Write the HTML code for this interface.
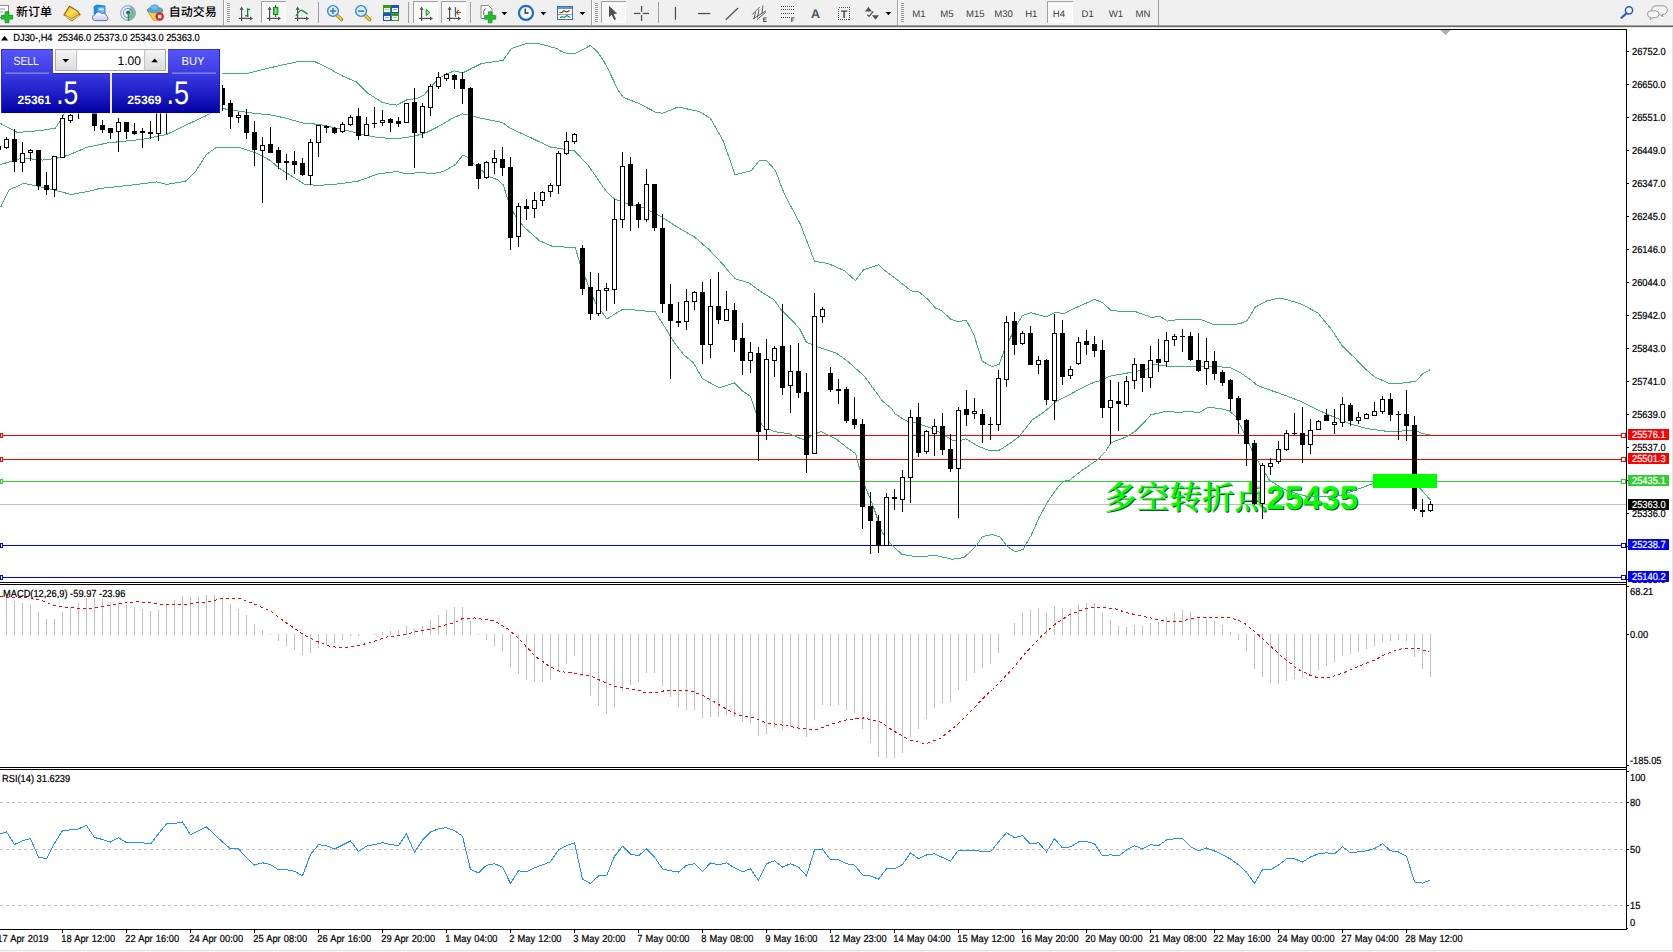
<!DOCTYPE html><html><head><meta charset="utf-8"><title>DJ30 H4</title>
<style>html,body{margin:0;padding:0;background:#fff;overflow:hidden}body{width:1673px;height:952px;position:relative}svg{position:absolute;left:0;top:0;display:block}text{font-family:'Liberation Sans', 'Noto Sans CJK SC', sans-serif;white-space:pre;text-rendering:geometricPrecision}text.ann{font-family:"Liberation Sans","Noto Serif CJK SC",serif;font-weight:bold;font-size:33px}</style></head><body>
<svg width="1673" height="952" viewBox="0 0 1673 952">
<defs>
<linearGradient id="gTab" x1="0" y1="0" x2="0" y2="1"><stop offset="0" stop-color="#5454f2"/><stop offset="1" stop-color="#3a3ade"/></linearGradient>
<linearGradient id="gPan" x1="0" y1="0" x2="0" y2="1"><stop offset="0" stop-color="#3c3ce0"/><stop offset="0.5" stop-color="#1c1cc8"/><stop offset="1" stop-color="#0000a4"/></linearGradient>
<linearGradient id="gAll" gradientUnits="userSpaceOnUse" x1="0" y1="49" x2="0" y2="113"><stop offset="0" stop-color="#5656fb"/><stop offset="0.35" stop-color="#3e3ee4"/><stop offset="0.65" stop-color="#2222cc"/><stop offset="1" stop-color="#0000a2"/></linearGradient>
<linearGradient id="gBtn" x1="0" y1="0" x2="0" y2="1"><stop offset="0" stop-color="#f4f4f4"/><stop offset="1" stop-color="#dcdcdc"/></linearGradient>
<linearGradient id="gBook" x1="0" y1="0" x2="1" y2="1"><stop offset="0" stop-color="#e8b418"/><stop offset="0.45" stop-color="#fce058"/><stop offset="1" stop-color="#d09810"/></linearGradient><linearGradient id="gCloud" x1="0" y1="0" x2="0" y2="1"><stop offset="0" stop-color="#ffffff"/><stop offset="1" stop-color="#c4d0e6"/></linearGradient>
<clipPath id="cMain"><rect x="0" y="30" width="1626" height="552"/></clipPath>
</defs>
<rect x="0" y="0" width="1673" height="952" fill="#fff" />
<rect x="0" y="0" width="1673" height="25" fill="#f0f0f0" />
<rect x="0" y="25" width="1673" height="1" fill="#a0a0a0" />
<rect x="0" y="26" width="1673" height="1" fill="#696969" />
<rect x="0" y="27" width="1673" height="1" fill="#e3e3e3" />
<rect x="0" y="28" width="1673" height="1" fill="#fff" />
<rect x="1672" y="27" width="1" height="925" fill="#e4e4e4" />
<rect x="0" y="950" width="1673" height="1" fill="#e2e2e2" />
<rect x="0" y="951" width="1673" height="1" fill="#f6f6f6" />
<g shape-rendering="crispEdges">
<rect x="0" y="29" width="1627" height="1" fill="#000" />
<rect x="1626" y="29" width="1" height="901" fill="#000" />
<rect x="0" y="582" width="1627" height="1" fill="#000" />
<rect x="0" y="584" width="1627" height="1" fill="#000" />
<rect x="0" y="767" width="1627" height="1" fill="#000" />
<rect x="0" y="769" width="1627" height="1" fill="#000" />
<rect x="0" y="929" width="1627" height="1" fill="#000" />
<rect x="0" y="583" width="1626" height="1" fill="#fff" />
<rect x="0" y="768" width="1626" height="1" fill="#fff" />
<g clip-path="url(#cMain)">
<rect x="0" y="435" width="1626" height="1" fill="#ff0000" />
<rect x="0" y="459" width="1626" height="1" fill="#ff0000" />
<rect x="0" y="481" width="1626" height="1" fill="#32cd32" />
<rect x="0" y="504" width="1626" height="1" fill="#c0c0c0" />
<rect x="0" y="545" width="1626" height="1" fill="#0000ff" />
<rect x="0" y="577" width="1626" height="1" fill="#0000ff" />
</g>
</g>
<text class="ann" x="1105.2" y="510" fill="#0b5a1c"><tspan font-size="32.6" font-weight="600">多空转折点</tspan><tspan dx="-0.8">25435</tspan></text>
<text class="ann" x="1104.2" y="509" fill="#00ff00"><tspan font-size="32.6" font-weight="600">多空转折点</tspan><tspan dx="-0.8">25435</tspan></text>
<g shape-rendering="crispEdges">
<g clip-path="url(#cMain)">
<polyline points="0.5,123.5 17.5,132.5 40.5,130.5 55.5,128.1 62.5,117.5 66.5,108.5 72.5,98.5 100.5,85.5 222.5,73.2 245.5,73.9 275.5,66.5 300.5,61.1 313.5,61.1 328.5,68.2 343.5,76.5 356.5,82.0 368.0,93.3 371.5,95.5 381.5,102.0 388.5,103.9 396.5,105.1 406.5,100.0 416.5,98.5 423.5,95.5 427.5,90.8 430.5,87.5 438.5,78.5 447.0,73.9 454.5,70.8 462.9,72.9 472.2,68.1 481.5,63.5 503.0,60.5 511.5,48.5 526.5,43.5 539.5,43.8 557.0,48.5 560.5,51.0 568.5,53.8 574.5,53.8 590.5,45.5 597.5,51.8 604.2,61.9 607.5,68.2 618.5,90.8 623.3,97.4 639.5,103.7 656.1,112.5 662.9,113.2 677.9,107.0 699.5,111.5 710.5,118.5 723.5,141.5 735.1,174.9 751.5,170.5 759.0,161.0 766.8,160.8 775.5,170.5 780.5,184.2 784.5,194.3 800.5,224.4 814.5,261.2 828.1,263.5 844.5,270.8 855.5,280.5 863.5,270.0 878.5,264.8 884.7,270.5 898.1,280.5 911.5,291.0 919.2,292.0 928.5,299.9 935.1,307.8 941.8,310.8 951.1,319.5 958.5,321.8 966.2,320.1 973.8,334.4 982.2,361.3 991.9,366.5 999.0,364.5 1004.0,351.2 1010.5,337.5 1017.2,324.1 1022.3,315.7 1030.5,312.7 1046.5,316.9 1054.2,312.7 1064.3,313.2 1077.5,307.0 1094.5,299.5 1102.1,302.3 1111.3,310.7 1136.5,312.0 1151.5,317.4 1160.1,316.5 1167.5,321.1 1178.5,319.5 1202.1,319.9 1214.5,325.0 1227.3,324.5 1239.5,323.9 1247.3,320.5 1254.9,307.4 1266.5,301.0 1279.2,298.1 1287.5,299.8 1301.1,304.0 1317.9,312.9 1331.3,329.2 1342.3,346.0 1354.9,358.1 1365.0,368.7 1375.0,377.1 1390.2,383.9 1403.5,383.0 1415.5,381.3 1422.9,373.8 1430.5,369.5" fill="none" stroke="#3cb371" stroke-width="1"/>
<polyline points="0.5,164.5 22.5,158.0 42.5,160.1 55.5,158.5 67.5,155.5 87.5,147.1 108.0,142.9 143.5,139.2 166.5,134.5 185.5,125.3 206.5,115.5 214.5,110.5 222.5,108.5 232.5,110.2 255.5,113.5 270.5,114.8 287.3,118.5 302.5,123.0 319.2,124.4 334.5,127.7 349.5,131.1 366.3,135.3 379.5,137.8 398.2,138.5 415.0,136.1 426.5,132.5 438.5,126.5 452.0,118.5 462.1,113.9 467.1,114.3 477.2,117.5 502.5,122.5 510.5,128.5 531.0,137.8 536.5,140.5 550.9,147.2 560.5,148.5 574.5,150.9 587.9,164.9 606.5,191.8 614.8,199.3 628.2,204.0 643.4,207.7 661.8,217.0 678.5,227.9 693.8,236.5 708.9,249.5 724.0,265.5 727.9,270.5 735.5,278.9 749.0,282.8 759.0,290.5 774.1,299.9 780.5,308.8 799.2,328.0 806.5,342.5 813.5,345.0 819.2,347.5 836.0,352.9 847.7,361.3 864.5,376.4 878.0,394.9 882.5,401.3 891.5,408.3 895.1,413.9 904.9,420.1 908.5,421.5 915.0,422.5 922.0,424.9 933.8,429.1 943.9,435.0 952.3,440.0 959.0,440.8 965.7,438.8 979.2,446.7 989.2,450.5 999.3,450.1 1009.4,443.9 1018.9,436.7 1032.3,419.9 1045.8,410.7 1055.9,401.5 1071.0,393.9 1082.8,387.5 1096.2,381.3 1101.3,380.8 1109.5,376.2 1128.1,372.9 1146.5,369.5 1153.4,364.5 1166.8,366.1 1195.4,366.1 1217.2,366.5 1230.5,367.8 1240.5,372.9 1249.2,378.7 1257.5,385.5 1271.0,390.5 1279.2,393.2 1301.1,401.5 1317.9,410.0 1331.3,415.9 1351.5,424.3 1366.5,428.5 1390.2,431.8 1407.0,430.7 1414.5,430.2 1422.1,433.5 1429.5,434.9" fill="none" stroke="#3cb371" stroke-width="1"/>
<polyline points="0.5,207.5 8.9,190.0 24.0,183.3 39.1,186.5 56.0,190.5 71.1,194.5 87.9,191.5 99.5,188.5 128.2,185.5 156.5,181.9 166.5,184.5 185.5,181.2 195.5,171.5 206.5,154.5 215.5,148.0 239.1,147.5 256.0,153.0 270.5,160.5 278.9,168.0 292.3,176.5 304.1,184.0 317.5,185.5 337.5,184.0 357.9,181.2 378.0,173.9 396.5,171.5 406.5,173.9 421.5,172.3 431.5,173.9 443.5,171.5 455.5,164.5 462.9,154.9 468.5,158.0 474.5,164.5 489.0,176.5 497.5,179.8 503.3,184.9 507.5,198.5 513.9,213.5 524.0,227.0 539.2,240.5 552.5,246.5 575.3,247.5 580.3,264.9 586.0,279.5 590.5,291.5 596.0,304.1 606.9,318.9 622.9,309.2 632.1,309.2 638.0,310.8 654.8,311.3 663.2,324.3 673.3,341.1 683.4,354.5 693.5,362.9 702.7,378.9 719.5,387.8 734.5,382.8 742.2,390.7 750.5,396.5 756.5,414.0 762.3,425.5 769.9,429.3 774.1,431.5 789.2,433.8 804.4,440.0 812.8,435.0 821.2,431.5 836.3,439.2 848.1,448.4 855.5,453.5 859.8,469.4 865.7,487.9 873.3,506.4 881.7,531.5 890.1,543.4 901.8,554.3 917.0,556.8 935.5,555.5 952.3,559.3 964.0,557.5 975.8,546.5 982.5,536.5 992.5,534.5 1000.2,537.0 1007.2,546.5 1015.5,551.9 1023.2,549.1 1031.5,534.8 1039.2,517.1 1049.2,499.5 1057.5,487.7 1063.5,481.3 1069.5,480.2 1081.2,470.9 1098.0,459.5 1105.5,451.5 1111.3,442.5 1124.8,437.5 1134.9,431.7 1143.3,423.3 1150.8,414.9 1165.1,411.5 1178.5,412.3 1192.0,411.5 1198.7,412.9 1207.1,407.8 1218.9,408.1 1229.0,410.7 1235.7,416.5 1238.9,422.5 1246.5,437.7 1252.3,451.2 1259.9,464.5 1269.2,479.7 1279.2,486.5 1289.3,491.5 1306.1,496.2 1324.5,496.9 1339.5,495.7 1358.2,489.0 1373.4,483.5 1400.5,480.5 1414.5,482.5 1420.5,489.0 1430.5,500.2" fill="none" stroke="#3cb371" stroke-width="1"/>
<rect x="-2" y="146" width="1" height="4" fill="#000" />
<rect x="-4" y="146" width="5" height="4" fill="#000" />
<rect x="6" y="137" width="1" height="12" fill="#000" />
<rect x="4" y="139" width="5" height="9" fill="#000" />
<rect x="5" y="140" width="3" height="7" fill="#fff" />
<rect x="14" y="129" width="1" height="43" fill="#000" />
<rect x="12" y="139" width="5" height="23" fill="#000" />
<rect x="22" y="142" width="1" height="30" fill="#000" />
<rect x="20" y="153" width="5" height="10" fill="#000" />
<rect x="21" y="154" width="3" height="8" fill="#fff" />
<rect x="30" y="149" width="1" height="12" fill="#000" />
<rect x="28" y="150" width="5" height="3" fill="#000" />
<rect x="29" y="151" width="3" height="1" fill="#fff" />
<rect x="38" y="150" width="1" height="40" fill="#000" />
<rect x="36" y="150" width="5" height="36" fill="#000" />
<rect x="46" y="172" width="1" height="23" fill="#000" />
<rect x="44" y="185" width="5" height="5" fill="#000" />
<rect x="54" y="156" width="1" height="41" fill="#000" />
<rect x="52" y="156" width="5" height="34" fill="#000" />
<rect x="53" y="157" width="3" height="32" fill="#fff" />
<rect x="62" y="115" width="1" height="43" fill="#000" />
<rect x="60" y="118" width="5" height="40" fill="#000" />
<rect x="61" y="119" width="3" height="38" fill="#fff" />
<rect x="70" y="114" width="1" height="9" fill="#000" />
<rect x="68" y="115" width="5" height="6" fill="#000" />
<rect x="69" y="116" width="3" height="4" fill="#fff" />
<rect x="78" y="100" width="1" height="19" fill="#000" />
<rect x="76" y="100" width="5" height="11" fill="#000" />
<rect x="94" y="100" width="1" height="31" fill="#000" />
<rect x="92" y="105" width="5" height="21" fill="#000" />
<rect x="102" y="120" width="1" height="13" fill="#000" />
<rect x="100" y="125" width="5" height="5" fill="#000" />
<rect x="110" y="128" width="1" height="11" fill="#000" />
<rect x="108" y="128" width="5" height="5" fill="#000" />
<rect x="118" y="118" width="1" height="34" fill="#000" />
<rect x="116" y="122" width="5" height="10" fill="#000" />
<rect x="117" y="123" width="3" height="8" fill="#fff" />
<rect x="126" y="122" width="1" height="17" fill="#000" />
<rect x="124" y="122" width="5" height="10" fill="#000" />
<rect x="134" y="123" width="1" height="12" fill="#000" />
<rect x="132" y="131" width="5" height="3" fill="#000" />
<rect x="142" y="128" width="1" height="20" fill="#000" />
<rect x="140" y="131" width="5" height="2" fill="#000" />
<rect x="150" y="121" width="1" height="18" fill="#000" />
<rect x="148" y="132" width="5" height="2" fill="#000" />
<rect x="158" y="100" width="1" height="41" fill="#000" />
<rect x="156" y="105" width="5" height="29" fill="#000" />
<rect x="157" y="106" width="3" height="27" fill="#fff" />
<rect x="166" y="100" width="1" height="34" fill="#000" />
<rect x="164" y="100" width="5" height="11" fill="#000" />
<rect x="165" y="101" width="3" height="9" fill="#fff" />
<rect x="222" y="85" width="1" height="26" fill="#000" />
<rect x="220" y="88" width="5" height="17" fill="#000" />
<rect x="230" y="100" width="1" height="29" fill="#000" />
<rect x="228" y="103" width="5" height="14" fill="#000" />
<rect x="238" y="112" width="1" height="11" fill="#000" />
<rect x="236" y="115" width="5" height="3" fill="#000" />
<rect x="237" y="116" width="3" height="1" fill="#fff" />
<rect x="246" y="109" width="1" height="30" fill="#000" />
<rect x="244" y="115" width="5" height="18" fill="#000" />
<rect x="254" y="121" width="1" height="45" fill="#000" />
<rect x="252" y="132" width="5" height="18" fill="#000" />
<rect x="262" y="137" width="1" height="66" fill="#000" />
<rect x="260" y="145" width="5" height="6" fill="#000" />
<rect x="261" y="146" width="3" height="4" fill="#fff" />
<rect x="270" y="127" width="1" height="26" fill="#000" />
<rect x="268" y="144" width="5" height="9" fill="#000" />
<rect x="278" y="147" width="1" height="22" fill="#000" />
<rect x="276" y="150" width="5" height="13" fill="#000" />
<rect x="286" y="154" width="1" height="26" fill="#000" />
<rect x="284" y="161" width="5" height="2" fill="#000" />
<rect x="294" y="151" width="1" height="23" fill="#000" />
<rect x="292" y="161" width="5" height="4" fill="#000" />
<rect x="302" y="158" width="1" height="18" fill="#000" />
<rect x="300" y="163" width="5" height="12" fill="#000" />
<rect x="310" y="139" width="1" height="46" fill="#000" />
<rect x="308" y="142" width="5" height="34" fill="#000" />
<rect x="309" y="143" width="3" height="32" fill="#fff" />
<rect x="318" y="125" width="1" height="32" fill="#000" />
<rect x="316" y="125" width="5" height="18" fill="#000" />
<rect x="317" y="126" width="3" height="16" fill="#fff" />
<rect x="326" y="125" width="1" height="8" fill="#000" />
<rect x="324" y="126" width="5" height="2" fill="#000" />
<rect x="334" y="127" width="1" height="7" fill="#000" />
<rect x="332" y="128" width="5" height="5" fill="#000" />
<rect x="342" y="122" width="1" height="11" fill="#000" />
<rect x="340" y="124" width="5" height="8" fill="#000" />
<rect x="341" y="125" width="3" height="6" fill="#fff" />
<rect x="350" y="115" width="1" height="11" fill="#000" />
<rect x="348" y="117" width="5" height="8" fill="#000" />
<rect x="349" y="118" width="3" height="6" fill="#fff" />
<rect x="358" y="108" width="1" height="32" fill="#000" />
<rect x="356" y="116" width="5" height="20" fill="#000" />
<rect x="366" y="117" width="1" height="19" fill="#000" />
<rect x="364" y="124" width="5" height="12" fill="#000" />
<rect x="365" y="125" width="3" height="10" fill="#fff" />
<rect x="374" y="107" width="1" height="21" fill="#000" />
<rect x="372" y="123" width="5" height="1" fill="#000" />
<rect x="382" y="110" width="1" height="16" fill="#000" />
<rect x="380" y="120" width="5" height="3" fill="#000" />
<rect x="381" y="121" width="3" height="1" fill="#fff" />
<rect x="390" y="118" width="1" height="14" fill="#000" />
<rect x="388" y="119" width="5" height="4" fill="#000" />
<rect x="398" y="117" width="1" height="10" fill="#000" />
<rect x="396" y="121" width="5" height="3" fill="#000" />
<rect x="406" y="103" width="1" height="20" fill="#000" />
<rect x="404" y="103" width="5" height="20" fill="#000" />
<rect x="405" y="104" width="3" height="18" fill="#fff" />
<rect x="414" y="88" width="1" height="80" fill="#000" />
<rect x="412" y="102" width="5" height="31" fill="#000" />
<rect x="422" y="103" width="1" height="35" fill="#000" />
<rect x="420" y="106" width="5" height="27" fill="#000" />
<rect x="421" y="107" width="3" height="25" fill="#fff" />
<rect x="430" y="84" width="1" height="32" fill="#000" />
<rect x="428" y="86" width="5" height="22" fill="#000" />
<rect x="429" y="87" width="3" height="20" fill="#fff" />
<rect x="438" y="72" width="1" height="17" fill="#000" />
<rect x="436" y="77" width="5" height="10" fill="#000" />
<rect x="437" y="78" width="3" height="8" fill="#fff" />
<rect x="446" y="73" width="1" height="8" fill="#000" />
<rect x="444" y="74" width="5" height="5" fill="#000" />
<rect x="445" y="75" width="3" height="3" fill="#fff" />
<rect x="454" y="74" width="1" height="15" fill="#000" />
<rect x="452" y="75" width="5" height="5" fill="#000" />
<rect x="462" y="72" width="1" height="32" fill="#000" />
<rect x="460" y="79" width="5" height="10" fill="#000" />
<rect x="470" y="87" width="1" height="79" fill="#000" />
<rect x="468" y="88" width="5" height="78" fill="#000" />
<rect x="478" y="163" width="1" height="26" fill="#000" />
<rect x="476" y="164" width="5" height="15" fill="#000" />
<rect x="486" y="161" width="1" height="18" fill="#000" />
<rect x="484" y="162" width="5" height="16" fill="#000" />
<rect x="485" y="163" width="3" height="14" fill="#fff" />
<rect x="494" y="150" width="1" height="24" fill="#000" />
<rect x="492" y="158" width="5" height="5" fill="#000" />
<rect x="493" y="159" width="3" height="3" fill="#fff" />
<rect x="502" y="147" width="1" height="29" fill="#000" />
<rect x="500" y="159" width="5" height="9" fill="#000" />
<rect x="510" y="157" width="1" height="93" fill="#000" />
<rect x="508" y="167" width="5" height="71" fill="#000" />
<rect x="518" y="203" width="1" height="44" fill="#000" />
<rect x="516" y="206" width="5" height="31" fill="#000" />
<rect x="517" y="207" width="3" height="29" fill="#fff" />
<rect x="526" y="199" width="1" height="21" fill="#000" />
<rect x="524" y="206" width="5" height="3" fill="#000" />
<rect x="534" y="192" width="1" height="26" fill="#000" />
<rect x="532" y="200" width="5" height="9" fill="#000" />
<rect x="533" y="201" width="3" height="7" fill="#fff" />
<rect x="542" y="191" width="1" height="15" fill="#000" />
<rect x="540" y="192" width="5" height="9" fill="#000" />
<rect x="541" y="193" width="3" height="7" fill="#fff" />
<rect x="550" y="183" width="1" height="14" fill="#000" />
<rect x="548" y="185" width="5" height="7" fill="#000" />
<rect x="549" y="186" width="3" height="5" fill="#fff" />
<rect x="558" y="151" width="1" height="43" fill="#000" />
<rect x="556" y="153" width="5" height="33" fill="#000" />
<rect x="557" y="154" width="3" height="31" fill="#fff" />
<rect x="566" y="132" width="1" height="23" fill="#000" />
<rect x="564" y="141" width="5" height="13" fill="#000" />
<rect x="565" y="142" width="3" height="11" fill="#fff" />
<rect x="574" y="133" width="1" height="11" fill="#000" />
<rect x="572" y="134" width="5" height="8" fill="#000" />
<rect x="573" y="135" width="3" height="6" fill="#fff" />
<rect x="582" y="245" width="1" height="50" fill="#000" />
<rect x="580" y="248" width="5" height="41" fill="#000" />
<rect x="590" y="272" width="1" height="48" fill="#000" />
<rect x="588" y="287" width="5" height="27" fill="#000" />
<rect x="598" y="273" width="1" height="43" fill="#000" />
<rect x="596" y="290" width="5" height="24" fill="#000" />
<rect x="597" y="291" width="3" height="22" fill="#fff" />
<rect x="606" y="283" width="1" height="28" fill="#000" />
<rect x="604" y="288" width="5" height="3" fill="#000" />
<rect x="605" y="289" width="3" height="1" fill="#fff" />
<rect x="614" y="199" width="1" height="105" fill="#000" />
<rect x="612" y="219" width="5" height="71" fill="#000" />
<rect x="613" y="220" width="3" height="69" fill="#fff" />
<rect x="622" y="152" width="1" height="76" fill="#000" />
<rect x="620" y="166" width="5" height="54" fill="#000" />
<rect x="621" y="167" width="3" height="52" fill="#fff" />
<rect x="630" y="157" width="1" height="74" fill="#000" />
<rect x="628" y="164" width="5" height="42" fill="#000" />
<rect x="638" y="202" width="1" height="26" fill="#000" />
<rect x="636" y="204" width="5" height="16" fill="#000" />
<rect x="646" y="169" width="1" height="53" fill="#000" />
<rect x="644" y="184" width="5" height="36" fill="#000" />
<rect x="645" y="185" width="3" height="34" fill="#fff" />
<rect x="654" y="184" width="1" height="47" fill="#000" />
<rect x="652" y="184" width="5" height="44" fill="#000" />
<rect x="662" y="214" width="1" height="99" fill="#000" />
<rect x="660" y="228" width="5" height="76" fill="#000" />
<rect x="670" y="284" width="1" height="95" fill="#000" />
<rect x="668" y="304" width="5" height="17" fill="#000" />
<rect x="678" y="302" width="1" height="25" fill="#000" />
<rect x="676" y="321" width="5" height="2" fill="#000" />
<rect x="686" y="289" width="1" height="41" fill="#000" />
<rect x="684" y="301" width="5" height="21" fill="#000" />
<rect x="685" y="302" width="3" height="19" fill="#fff" />
<rect x="694" y="291" width="1" height="19" fill="#000" />
<rect x="692" y="292" width="5" height="10" fill="#000" />
<rect x="693" y="293" width="3" height="8" fill="#fff" />
<rect x="702" y="282" width="1" height="82" fill="#000" />
<rect x="700" y="292" width="5" height="53" fill="#000" />
<rect x="710" y="279" width="1" height="79" fill="#000" />
<rect x="708" y="306" width="5" height="39" fill="#000" />
<rect x="709" y="307" width="3" height="37" fill="#fff" />
<rect x="718" y="272" width="1" height="52" fill="#000" />
<rect x="716" y="306" width="5" height="14" fill="#000" />
<rect x="726" y="291" width="1" height="30" fill="#000" />
<rect x="724" y="309" width="5" height="12" fill="#000" />
<rect x="725" y="310" width="3" height="10" fill="#fff" />
<rect x="734" y="303" width="1" height="49" fill="#000" />
<rect x="732" y="310" width="5" height="30" fill="#000" />
<rect x="742" y="323" width="1" height="52" fill="#000" />
<rect x="740" y="338" width="5" height="23" fill="#000" />
<rect x="750" y="342" width="1" height="31" fill="#000" />
<rect x="748" y="352" width="5" height="9" fill="#000" />
<rect x="749" y="353" width="3" height="7" fill="#fff" />
<rect x="758" y="347" width="1" height="114" fill="#000" />
<rect x="756" y="353" width="5" height="79" fill="#000" />
<rect x="766" y="339" width="1" height="101" fill="#000" />
<rect x="764" y="359" width="5" height="71" fill="#000" />
<rect x="765" y="360" width="3" height="69" fill="#fff" />
<rect x="774" y="346" width="1" height="31" fill="#000" />
<rect x="772" y="348" width="5" height="13" fill="#000" />
<rect x="773" y="349" width="3" height="11" fill="#fff" />
<rect x="782" y="304" width="1" height="91" fill="#000" />
<rect x="780" y="346" width="5" height="42" fill="#000" />
<rect x="790" y="345" width="1" height="68" fill="#000" />
<rect x="788" y="371" width="5" height="15" fill="#000" />
<rect x="789" y="372" width="3" height="13" fill="#fff" />
<rect x="798" y="343" width="1" height="55" fill="#000" />
<rect x="796" y="371" width="5" height="22" fill="#000" />
<rect x="806" y="373" width="1" height="100" fill="#000" />
<rect x="804" y="392" width="5" height="63" fill="#000" />
<rect x="814" y="293" width="1" height="161" fill="#000" />
<rect x="812" y="316" width="5" height="138" fill="#000" />
<rect x="813" y="317" width="3" height="136" fill="#fff" />
<rect x="822" y="307" width="1" height="16" fill="#000" />
<rect x="820" y="309" width="5" height="8" fill="#000" />
<rect x="821" y="310" width="3" height="6" fill="#fff" />
<rect x="830" y="367" width="1" height="25" fill="#000" />
<rect x="828" y="373" width="5" height="17" fill="#000" />
<rect x="838" y="379" width="1" height="25" fill="#000" />
<rect x="836" y="389" width="5" height="2" fill="#000" />
<rect x="846" y="387" width="1" height="36" fill="#000" />
<rect x="844" y="389" width="5" height="32" fill="#000" />
<rect x="854" y="397" width="1" height="32" fill="#000" />
<rect x="852" y="419" width="5" height="6" fill="#000" />
<rect x="862" y="419" width="1" height="110" fill="#000" />
<rect x="860" y="424" width="5" height="83" fill="#000" />
<rect x="870" y="492" width="1" height="62" fill="#000" />
<rect x="868" y="506" width="5" height="15" fill="#000" />
<rect x="878" y="515" width="1" height="38" fill="#000" />
<rect x="876" y="521" width="5" height="25" fill="#000" />
<rect x="886" y="493" width="1" height="53" fill="#000" />
<rect x="884" y="497" width="5" height="49" fill="#000" />
<rect x="885" y="498" width="3" height="47" fill="#fff" />
<rect x="894" y="489" width="1" height="21" fill="#000" />
<rect x="892" y="497" width="5" height="2" fill="#000" />
<rect x="902" y="470" width="1" height="42" fill="#000" />
<rect x="900" y="477" width="5" height="23" fill="#000" />
<rect x="901" y="478" width="3" height="21" fill="#fff" />
<rect x="910" y="410" width="1" height="93" fill="#000" />
<rect x="908" y="417" width="5" height="61" fill="#000" />
<rect x="909" y="418" width="3" height="59" fill="#fff" />
<rect x="918" y="403" width="1" height="54" fill="#000" />
<rect x="916" y="417" width="5" height="36" fill="#000" />
<rect x="926" y="430" width="1" height="24" fill="#000" />
<rect x="924" y="431" width="5" height="21" fill="#000" />
<rect x="925" y="432" width="3" height="19" fill="#fff" />
<rect x="934" y="419" width="1" height="37" fill="#000" />
<rect x="932" y="426" width="5" height="8" fill="#000" />
<rect x="933" y="427" width="3" height="6" fill="#fff" />
<rect x="942" y="413" width="1" height="42" fill="#000" />
<rect x="940" y="426" width="5" height="24" fill="#000" />
<rect x="950" y="434" width="1" height="38" fill="#000" />
<rect x="948" y="449" width="5" height="20" fill="#000" />
<rect x="958" y="407" width="1" height="111" fill="#000" />
<rect x="956" y="410" width="5" height="59" fill="#000" />
<rect x="957" y="411" width="3" height="57" fill="#fff" />
<rect x="966" y="390" width="1" height="36" fill="#000" />
<rect x="964" y="409" width="5" height="6" fill="#000" />
<rect x="974" y="398" width="1" height="21" fill="#000" />
<rect x="972" y="411" width="5" height="3" fill="#000" />
<rect x="973" y="412" width="3" height="1" fill="#fff" />
<rect x="982" y="409" width="1" height="34" fill="#000" />
<rect x="980" y="414" width="5" height="11" fill="#000" />
<rect x="990" y="417" width="1" height="23" fill="#000" />
<rect x="988" y="424" width="5" height="1" fill="#000" />
<rect x="998" y="370" width="1" height="61" fill="#000" />
<rect x="996" y="378" width="5" height="47" fill="#000" />
<rect x="997" y="379" width="3" height="45" fill="#fff" />
<rect x="1006" y="316" width="1" height="71" fill="#000" />
<rect x="1004" y="322" width="5" height="58" fill="#000" />
<rect x="1005" y="323" width="3" height="56" fill="#fff" />
<rect x="1014" y="312" width="1" height="43" fill="#000" />
<rect x="1012" y="321" width="5" height="24" fill="#000" />
<rect x="1022" y="331" width="1" height="14" fill="#000" />
<rect x="1020" y="333" width="5" height="11" fill="#000" />
<rect x="1021" y="334" width="3" height="9" fill="#fff" />
<rect x="1030" y="326" width="1" height="39" fill="#000" />
<rect x="1028" y="333" width="5" height="32" fill="#000" />
<rect x="1038" y="356" width="1" height="18" fill="#000" />
<rect x="1036" y="360" width="5" height="5" fill="#000" />
<rect x="1037" y="361" width="3" height="3" fill="#fff" />
<rect x="1046" y="359" width="1" height="46" fill="#000" />
<rect x="1044" y="360" width="5" height="40" fill="#000" />
<rect x="1054" y="314" width="1" height="106" fill="#000" />
<rect x="1052" y="333" width="5" height="68" fill="#000" />
<rect x="1053" y="334" width="3" height="66" fill="#fff" />
<rect x="1062" y="320" width="1" height="65" fill="#000" />
<rect x="1060" y="333" width="5" height="44" fill="#000" />
<rect x="1070" y="366" width="1" height="13" fill="#000" />
<rect x="1068" y="369" width="5" height="7" fill="#000" />
<rect x="1069" y="370" width="3" height="5" fill="#fff" />
<rect x="1078" y="337" width="1" height="28" fill="#000" />
<rect x="1076" y="342" width="5" height="22" fill="#000" />
<rect x="1077" y="343" width="3" height="20" fill="#fff" />
<rect x="1086" y="330" width="1" height="25" fill="#000" />
<rect x="1084" y="341" width="5" height="4" fill="#000" />
<rect x="1094" y="336" width="1" height="21" fill="#000" />
<rect x="1092" y="344" width="5" height="7" fill="#000" />
<rect x="1102" y="340" width="1" height="78" fill="#000" />
<rect x="1100" y="350" width="5" height="58" fill="#000" />
<rect x="1110" y="380" width="1" height="64" fill="#000" />
<rect x="1108" y="400" width="5" height="8" fill="#000" />
<rect x="1109" y="401" width="3" height="6" fill="#fff" />
<rect x="1118" y="382" width="1" height="49" fill="#000" />
<rect x="1116" y="401" width="5" height="3" fill="#000" />
<rect x="1126" y="376" width="1" height="31" fill="#000" />
<rect x="1124" y="381" width="5" height="24" fill="#000" />
<rect x="1125" y="382" width="3" height="22" fill="#fff" />
<rect x="1134" y="358" width="1" height="31" fill="#000" />
<rect x="1132" y="364" width="5" height="17" fill="#000" />
<rect x="1133" y="365" width="3" height="15" fill="#fff" />
<rect x="1142" y="364" width="1" height="28" fill="#000" />
<rect x="1140" y="364" width="5" height="14" fill="#000" />
<rect x="1150" y="346" width="1" height="42" fill="#000" />
<rect x="1148" y="360" width="5" height="18" fill="#000" />
<rect x="1149" y="361" width="3" height="16" fill="#fff" />
<rect x="1158" y="339" width="1" height="33" fill="#000" />
<rect x="1156" y="359" width="5" height="4" fill="#000" />
<rect x="1166" y="332" width="1" height="35" fill="#000" />
<rect x="1164" y="340" width="5" height="22" fill="#000" />
<rect x="1165" y="341" width="3" height="20" fill="#fff" />
<rect x="1174" y="334" width="1" height="12" fill="#000" />
<rect x="1172" y="336" width="5" height="4" fill="#000" />
<rect x="1173" y="337" width="3" height="2" fill="#fff" />
<rect x="1182" y="329" width="1" height="23" fill="#000" />
<rect x="1180" y="336" width="5" height="1" fill="#000" />
<rect x="1190" y="332" width="1" height="29" fill="#000" />
<rect x="1188" y="336" width="5" height="24" fill="#000" />
<rect x="1198" y="333" width="1" height="39" fill="#000" />
<rect x="1196" y="360" width="5" height="11" fill="#000" />
<rect x="1206" y="338" width="1" height="47" fill="#000" />
<rect x="1204" y="361" width="5" height="8" fill="#000" />
<rect x="1205" y="362" width="3" height="6" fill="#fff" />
<rect x="1214" y="351" width="1" height="29" fill="#000" />
<rect x="1212" y="361" width="5" height="13" fill="#000" />
<rect x="1222" y="370" width="1" height="16" fill="#000" />
<rect x="1220" y="372" width="5" height="11" fill="#000" />
<rect x="1230" y="379" width="1" height="32" fill="#000" />
<rect x="1228" y="380" width="5" height="19" fill="#000" />
<rect x="1238" y="396" width="1" height="38" fill="#000" />
<rect x="1236" y="398" width="5" height="22" fill="#000" />
<rect x="1246" y="419" width="1" height="47" fill="#000" />
<rect x="1244" y="420" width="5" height="24" fill="#000" />
<rect x="1254" y="440" width="1" height="65" fill="#000" />
<rect x="1252" y="443" width="5" height="61" fill="#000" />
<rect x="1262" y="463" width="1" height="56" fill="#000" />
<rect x="1260" y="465" width="5" height="39" fill="#000" />
<rect x="1261" y="466" width="3" height="37" fill="#fff" />
<rect x="1270" y="458" width="1" height="17" fill="#000" />
<rect x="1268" y="463" width="5" height="4" fill="#000" />
<rect x="1269" y="464" width="3" height="2" fill="#fff" />
<rect x="1278" y="441" width="1" height="23" fill="#000" />
<rect x="1276" y="449" width="5" height="13" fill="#000" />
<rect x="1277" y="450" width="3" height="11" fill="#fff" />
<rect x="1286" y="430" width="1" height="21" fill="#000" />
<rect x="1284" y="433" width="5" height="17" fill="#000" />
<rect x="1285" y="434" width="3" height="15" fill="#fff" />
<rect x="1294" y="413" width="1" height="22" fill="#000" />
<rect x="1292" y="433" width="5" height="1" fill="#000" />
<rect x="1302" y="407" width="1" height="56" fill="#000" />
<rect x="1300" y="433" width="5" height="12" fill="#000" />
<rect x="1310" y="419" width="1" height="35" fill="#000" />
<rect x="1308" y="430" width="5" height="15" fill="#000" />
<rect x="1309" y="431" width="3" height="13" fill="#fff" />
<rect x="1318" y="420" width="1" height="10" fill="#000" />
<rect x="1316" y="421" width="5" height="9" fill="#000" />
<rect x="1317" y="422" width="3" height="7" fill="#fff" />
<rect x="1326" y="409" width="1" height="12" fill="#000" />
<rect x="1324" y="415" width="5" height="6" fill="#000" />
<rect x="1334" y="409" width="1" height="25" fill="#000" />
<rect x="1332" y="422" width="5" height="3" fill="#000" />
<rect x="1333" y="423" width="3" height="1" fill="#fff" />
<rect x="1342" y="397" width="1" height="30" fill="#000" />
<rect x="1340" y="404" width="5" height="19" fill="#000" />
<rect x="1341" y="405" width="3" height="17" fill="#fff" />
<rect x="1350" y="403" width="1" height="23" fill="#000" />
<rect x="1348" y="405" width="5" height="16" fill="#000" />
<rect x="1358" y="412" width="1" height="12" fill="#000" />
<rect x="1356" y="417" width="5" height="4" fill="#000" />
<rect x="1357" y="418" width="3" height="2" fill="#fff" />
<rect x="1366" y="413" width="1" height="6" fill="#000" />
<rect x="1364" y="414" width="5" height="5" fill="#000" />
<rect x="1365" y="415" width="3" height="3" fill="#fff" />
<rect x="1374" y="402" width="1" height="14" fill="#000" />
<rect x="1372" y="411" width="5" height="5" fill="#000" />
<rect x="1373" y="412" width="3" height="3" fill="#fff" />
<rect x="1382" y="396" width="1" height="18" fill="#000" />
<rect x="1380" y="399" width="5" height="13" fill="#000" />
<rect x="1381" y="400" width="3" height="11" fill="#fff" />
<rect x="1390" y="393" width="1" height="28" fill="#000" />
<rect x="1388" y="399" width="5" height="16" fill="#000" />
<rect x="1398" y="411" width="1" height="29" fill="#000" />
<rect x="1396" y="414" width="5" height="1" fill="#000" />
<rect x="1406" y="390" width="1" height="51" fill="#000" />
<rect x="1404" y="414" width="5" height="12" fill="#000" />
<rect x="1414" y="416" width="1" height="95" fill="#000" />
<rect x="1412" y="425" width="5" height="84" fill="#000" />
<rect x="1422" y="499" width="1" height="18" fill="#000" />
<rect x="1420" y="510" width="5" height="2" fill="#000" />
<rect x="1430" y="501" width="1" height="11" fill="#000" />
<rect x="1428" y="504" width="5" height="7" fill="#000" />
<rect x="1429" y="505" width="3" height="5" fill="#fff" />
<rect x="1373" y="474" width="64" height="14" fill="#00ff00" />
<polygon points="1440,30 1450,30 1445,35" fill="#b0b0b0"/>
</g>
<rect x="1621.5" y="433.5" width="4" height="4" fill="#fff" stroke="#ff0000" stroke-width="1"/>
<rect x="0.5" y="433.5" width="2" height="4" fill="#fff" stroke="#ff0000" stroke-width="1"/>
<rect x="1621.5" y="457.5" width="4" height="4" fill="#fff" stroke="#ff0000" stroke-width="1"/>
<rect x="0.5" y="457.5" width="2" height="4" fill="#fff" stroke="#ff0000" stroke-width="1"/>
<rect x="1621.5" y="479.5" width="4" height="4" fill="#fff" stroke="#32cd32" stroke-width="1"/>
<rect x="0.5" y="479.5" width="2" height="4" fill="#fff" stroke="#32cd32" stroke-width="1"/>
<rect x="1621.5" y="543.5" width="4" height="4" fill="#fff" stroke="#0000ff" stroke-width="1"/>
<rect x="0.5" y="543.5" width="2" height="4" fill="#fff" stroke="#0000ff" stroke-width="1"/>
<rect x="1621.5" y="575.5" width="4" height="4" fill="#fff" stroke="#0000ff" stroke-width="1"/>
<rect x="0.5" y="575.5" width="2" height="4" fill="#fff" stroke="#0000ff" stroke-width="1"/>
<rect x="1627" y="51" width="2" height="1" fill="#000" />
<rect x="1627" y="84" width="2" height="1" fill="#000" />
<rect x="1627" y="117" width="2" height="1" fill="#000" />
<rect x="1627" y="150" width="2" height="1" fill="#000" />
<rect x="1627" y="183" width="2" height="1" fill="#000" />
<rect x="1627" y="216" width="2" height="1" fill="#000" />
<rect x="1627" y="249" width="2" height="1" fill="#000" />
<rect x="1627" y="282" width="2" height="1" fill="#000" />
<rect x="1627" y="315" width="2" height="1" fill="#000" />
<rect x="1627" y="348" width="2" height="1" fill="#000" />
<rect x="1627" y="381" width="2" height="1" fill="#000" />
<rect x="1627" y="414" width="2" height="1" fill="#000" />
<rect x="1627" y="447" width="2" height="1" fill="#000" />
<rect x="1627" y="480" width="2" height="1" fill="#000" />
<rect x="1627" y="513" width="2" height="1" fill="#000" />
<rect x="1627" y="546" width="2" height="1" fill="#000" />
<rect x="1627" y="579" width="2" height="1" fill="#000" />
</g>
<text transform="translate(1632,55.0) scale(0.912,1)" font-size="10.2" fill="#000" stroke="#000" stroke-width="0.22" text-anchor="start" font-weight="normal" >26752.0</text>
<text transform="translate(1632,88.0) scale(0.912,1)" font-size="10.2" fill="#000" stroke="#000" stroke-width="0.22" text-anchor="start" font-weight="normal" >26650.0</text>
<text transform="translate(1632,121.0) scale(0.912,1)" font-size="10.2" fill="#000" stroke="#000" stroke-width="0.22" text-anchor="start" font-weight="normal" >26551.0</text>
<text transform="translate(1632,154.0) scale(0.912,1)" font-size="10.2" fill="#000" stroke="#000" stroke-width="0.22" text-anchor="start" font-weight="normal" >26449.0</text>
<text transform="translate(1632,187.0) scale(0.912,1)" font-size="10.2" fill="#000" stroke="#000" stroke-width="0.22" text-anchor="start" font-weight="normal" >26347.0</text>
<text transform="translate(1632,220.0) scale(0.912,1)" font-size="10.2" fill="#000" stroke="#000" stroke-width="0.22" text-anchor="start" font-weight="normal" >26245.0</text>
<text transform="translate(1632,253.0) scale(0.912,1)" font-size="10.2" fill="#000" stroke="#000" stroke-width="0.22" text-anchor="start" font-weight="normal" >26146.0</text>
<text transform="translate(1632,286.0) scale(0.912,1)" font-size="10.2" fill="#000" stroke="#000" stroke-width="0.22" text-anchor="start" font-weight="normal" >26044.0</text>
<text transform="translate(1632,319.0) scale(0.912,1)" font-size="10.2" fill="#000" stroke="#000" stroke-width="0.22" text-anchor="start" font-weight="normal" >25942.0</text>
<text transform="translate(1632,352.0) scale(0.912,1)" font-size="10.2" fill="#000" stroke="#000" stroke-width="0.22" text-anchor="start" font-weight="normal" >25843.0</text>
<text transform="translate(1632,385.0) scale(0.912,1)" font-size="10.2" fill="#000" stroke="#000" stroke-width="0.22" text-anchor="start" font-weight="normal" >25741.0</text>
<text transform="translate(1632,418.0) scale(0.912,1)" font-size="10.2" fill="#000" stroke="#000" stroke-width="0.22" text-anchor="start" font-weight="normal" >25639.0</text>
<text transform="translate(1632,451.0) scale(0.912,1)" font-size="10.2" fill="#000" stroke="#000" stroke-width="0.22" text-anchor="start" font-weight="normal" >25537.0</text>
<text transform="translate(1632,517.0) scale(0.912,1)" font-size="10.2" fill="#000" stroke="#000" stroke-width="0.22" text-anchor="start" font-weight="normal" >25336.0</text>
<text transform="translate(1632,583.0) scale(0.912,1)" font-size="10.2" fill="#000" stroke="#000" stroke-width="0.22" text-anchor="start" font-weight="normal" >25135.0</text>
<rect x="1628" y="429" width="41" height="11" fill="#ff0000" shape-rendering="crispEdges"/>
<text transform="translate(1632,438) scale(0.912,1)" font-size="10.2" fill="#fff" stroke="#fff" stroke-width="0.22" text-anchor="start" font-weight="normal" >25576.1</text>
<rect x="1628" y="453" width="41" height="11" fill="#ff0000" shape-rendering="crispEdges"/>
<text transform="translate(1632,462) scale(0.912,1)" font-size="10.2" fill="#fff" stroke="#fff" stroke-width="0.22" text-anchor="start" font-weight="normal" >25501.3</text>
<rect x="1628" y="475" width="41" height="11" fill="#32cd32" shape-rendering="crispEdges"/>
<text transform="translate(1632,484) scale(0.912,1)" font-size="10.2" fill="#fff" stroke="#fff" stroke-width="0.22" text-anchor="start" font-weight="normal" >25435.1</text>
<rect x="1628" y="499" width="41" height="11" fill="#000000" shape-rendering="crispEdges"/>
<text transform="translate(1632,508) scale(0.912,1)" font-size="10.2" fill="#fff" stroke="#fff" stroke-width="0.22" text-anchor="start" font-weight="normal" >25363.0</text>
<rect x="1628" y="539" width="41" height="11" fill="#0000ff" shape-rendering="crispEdges"/>
<text transform="translate(1632,548) scale(0.912,1)" font-size="10.2" fill="#fff" stroke="#fff" stroke-width="0.22" text-anchor="start" font-weight="normal" >25238.7</text>
<rect x="1628" y="571" width="41" height="11" fill="#0000ff" shape-rendering="crispEdges"/>
<text transform="translate(1632,580) scale(0.912,1)" font-size="10.2" fill="#fff" stroke="#fff" stroke-width="0.22" text-anchor="start" font-weight="normal" >25140.2</text>
<g shape-rendering="crispEdges">
<rect x="6" y="597" width="1" height="38" fill="#c0c0c0" />
<rect x="14" y="601" width="1" height="34" fill="#c0c0c0" />
<rect x="22" y="603" width="1" height="32" fill="#c0c0c0" />
<rect x="30" y="605" width="1" height="30" fill="#c0c0c0" />
<rect x="38" y="612" width="1" height="23" fill="#c0c0c0" />
<rect x="46" y="619" width="1" height="16" fill="#c0c0c0" />
<rect x="54" y="619" width="1" height="16" fill="#c0c0c0" />
<rect x="62" y="612" width="1" height="23" fill="#c0c0c0" />
<rect x="70" y="607" width="1" height="28" fill="#c0c0c0" />
<rect x="78" y="603" width="1" height="32" fill="#c0c0c0" />
<rect x="86" y="598" width="1" height="37" fill="#c0c0c0" />
<rect x="94" y="598" width="1" height="37" fill="#c0c0c0" />
<rect x="102" y="599" width="1" height="36" fill="#c0c0c0" />
<rect x="110" y="602" width="1" height="33" fill="#c0c0c0" />
<rect x="118" y="602" width="1" height="33" fill="#c0c0c0" />
<rect x="126" y="605" width="1" height="30" fill="#c0c0c0" />
<rect x="134" y="607" width="1" height="28" fill="#c0c0c0" />
<rect x="142" y="609" width="1" height="26" fill="#c0c0c0" />
<rect x="150" y="611" width="1" height="24" fill="#c0c0c0" />
<rect x="158" y="610" width="1" height="25" fill="#c0c0c0" />
<rect x="166" y="605" width="1" height="30" fill="#c0c0c0" />
<rect x="174" y="600" width="1" height="35" fill="#c0c0c0" />
<rect x="182" y="596" width="1" height="39" fill="#c0c0c0" />
<rect x="190" y="597" width="1" height="38" fill="#c0c0c0" />
<rect x="198" y="597" width="1" height="38" fill="#c0c0c0" />
<rect x="206" y="595" width="1" height="40" fill="#c0c0c0" />
<rect x="214" y="595" width="1" height="40" fill="#c0c0c0" />
<rect x="222" y="599" width="1" height="36" fill="#c0c0c0" />
<rect x="230" y="604" width="1" height="31" fill="#c0c0c0" />
<rect x="238" y="609" width="1" height="26" fill="#c0c0c0" />
<rect x="246" y="615" width="1" height="20" fill="#c0c0c0" />
<rect x="254" y="624" width="1" height="11" fill="#c0c0c0" />
<rect x="262" y="630" width="1" height="5" fill="#c0c0c0" />
<rect x="270" y="634" width="1" height="1" fill="#c0c0c0" />
<rect x="278" y="634" width="1" height="7" fill="#c0c0c0" />
<rect x="286" y="634" width="1" height="12" fill="#c0c0c0" />
<rect x="294" y="634" width="1" height="16" fill="#c0c0c0" />
<rect x="302" y="634" width="1" height="21" fill="#c0c0c0" />
<rect x="310" y="634" width="1" height="19" fill="#c0c0c0" />
<rect x="318" y="634" width="1" height="14" fill="#c0c0c0" />
<rect x="326" y="634" width="1" height="11" fill="#c0c0c0" />
<rect x="334" y="634" width="1" height="9" fill="#c0c0c0" />
<rect x="342" y="634" width="1" height="6" fill="#c0c0c0" />
<rect x="350" y="634" width="1" height="2" fill="#c0c0c0" />
<rect x="358" y="634" width="1" height="2" fill="#c0c0c0" />
<rect x="374" y="634" width="1" height="1" fill="#c0c0c0" />
<rect x="382" y="632" width="1" height="3" fill="#c0c0c0" />
<rect x="390" y="631" width="1" height="4" fill="#c0c0c0" />
<rect x="398" y="630" width="1" height="5" fill="#c0c0c0" />
<rect x="406" y="626" width="1" height="9" fill="#c0c0c0" />
<rect x="414" y="629" width="1" height="6" fill="#c0c0c0" />
<rect x="422" y="626" width="1" height="9" fill="#c0c0c0" />
<rect x="430" y="620" width="1" height="15" fill="#c0c0c0" />
<rect x="438" y="615" width="1" height="20" fill="#c0c0c0" />
<rect x="446" y="610" width="1" height="25" fill="#c0c0c0" />
<rect x="454" y="607" width="1" height="28" fill="#c0c0c0" />
<rect x="462" y="607" width="1" height="28" fill="#c0c0c0" />
<rect x="470" y="621" width="1" height="14" fill="#c0c0c0" />
<rect x="478" y="634" width="1" height="1" fill="#c0c0c0" />
<rect x="486" y="634" width="1" height="6" fill="#c0c0c0" />
<rect x="494" y="634" width="1" height="12" fill="#c0c0c0" />
<rect x="502" y="634" width="1" height="17" fill="#c0c0c0" />
<rect x="510" y="634" width="1" height="33" fill="#c0c0c0" />
<rect x="518" y="634" width="1" height="40" fill="#c0c0c0" />
<rect x="526" y="634" width="1" height="46" fill="#c0c0c0" />
<rect x="534" y="634" width="1" height="48" fill="#c0c0c0" />
<rect x="542" y="634" width="1" height="48" fill="#c0c0c0" />
<rect x="550" y="634" width="1" height="46" fill="#c0c0c0" />
<rect x="558" y="634" width="1" height="38" fill="#c0c0c0" />
<rect x="566" y="634" width="1" height="30" fill="#c0c0c0" />
<rect x="574" y="634" width="1" height="22" fill="#c0c0c0" />
<rect x="582" y="634" width="1" height="42" fill="#c0c0c0" />
<rect x="590" y="634" width="1" height="62" fill="#c0c0c0" />
<rect x="598" y="634" width="1" height="72" fill="#c0c0c0" />
<rect x="606" y="634" width="1" height="80" fill="#c0c0c0" />
<rect x="614" y="634" width="1" height="73" fill="#c0c0c0" />
<rect x="622" y="634" width="1" height="57" fill="#c0c0c0" />
<rect x="630" y="634" width="1" height="51" fill="#c0c0c0" />
<rect x="638" y="634" width="1" height="48" fill="#c0c0c0" />
<rect x="646" y="634" width="1" height="39" fill="#c0c0c0" />
<rect x="654" y="634" width="1" height="39" fill="#c0c0c0" />
<rect x="662" y="634" width="1" height="52" fill="#c0c0c0" />
<rect x="670" y="634" width="1" height="63" fill="#c0c0c0" />
<rect x="678" y="634" width="1" height="73" fill="#c0c0c0" />
<rect x="686" y="634" width="1" height="76" fill="#c0c0c0" />
<rect x="694" y="634" width="1" height="76" fill="#c0c0c0" />
<rect x="702" y="634" width="1" height="84" fill="#c0c0c0" />
<rect x="710" y="634" width="1" height="83" fill="#c0c0c0" />
<rect x="718" y="634" width="1" height="83" fill="#c0c0c0" />
<rect x="726" y="634" width="1" height="81" fill="#c0c0c0" />
<rect x="734" y="634" width="1" height="83" fill="#c0c0c0" />
<rect x="742" y="634" width="1" height="88" fill="#c0c0c0" />
<rect x="750" y="634" width="1" height="89" fill="#c0c0c0" />
<rect x="758" y="634" width="1" height="102" fill="#c0c0c0" />
<rect x="766" y="634" width="1" height="100" fill="#c0c0c0" />
<rect x="774" y="634" width="1" height="94" fill="#c0c0c0" />
<rect x="782" y="634" width="1" height="96" fill="#c0c0c0" />
<rect x="790" y="634" width="1" height="93" fill="#c0c0c0" />
<rect x="798" y="634" width="1" height="94" fill="#c0c0c0" />
<rect x="806" y="634" width="1" height="103" fill="#c0c0c0" />
<rect x="814" y="634" width="1" height="86" fill="#c0c0c0" />
<rect x="822" y="634" width="1" height="71" fill="#c0c0c0" />
<rect x="830" y="634" width="1" height="72" fill="#c0c0c0" />
<rect x="838" y="634" width="1" height="71" fill="#c0c0c0" />
<rect x="846" y="634" width="1" height="76" fill="#c0c0c0" />
<rect x="854" y="634" width="1" height="79" fill="#c0c0c0" />
<rect x="862" y="634" width="1" height="95" fill="#c0c0c0" />
<rect x="870" y="634" width="1" height="109" fill="#c0c0c0" />
<rect x="878" y="634" width="1" height="123" fill="#c0c0c0" />
<rect x="886" y="634" width="1" height="124" fill="#c0c0c0" />
<rect x="894" y="634" width="1" height="124" fill="#c0c0c0" />
<rect x="902" y="634" width="1" height="119" fill="#c0c0c0" />
<rect x="910" y="634" width="1" height="103" fill="#c0c0c0" />
<rect x="918" y="634" width="1" height="95" fill="#c0c0c0" />
<rect x="926" y="634" width="1" height="85" fill="#c0c0c0" />
<rect x="934" y="634" width="1" height="74" fill="#c0c0c0" />
<rect x="942" y="634" width="1" height="69" fill="#c0c0c0" />
<rect x="950" y="634" width="1" height="68" fill="#c0c0c0" />
<rect x="958" y="634" width="1" height="56" fill="#c0c0c0" />
<rect x="966" y="634" width="1" height="47" fill="#c0c0c0" />
<rect x="974" y="634" width="1" height="39" fill="#c0c0c0" />
<rect x="982" y="634" width="1" height="34" fill="#c0c0c0" />
<rect x="990" y="634" width="1" height="30" fill="#c0c0c0" />
<rect x="998" y="634" width="1" height="19" fill="#c0c0c0" />
<rect x="1014" y="623" width="1" height="12" fill="#c0c0c0" />
<rect x="1022" y="613" width="1" height="22" fill="#c0c0c0" />
<rect x="1030" y="610" width="1" height="25" fill="#c0c0c0" />
<rect x="1038" y="608" width="1" height="27" fill="#c0c0c0" />
<rect x="1046" y="613" width="1" height="22" fill="#c0c0c0" />
<rect x="1054" y="606" width="1" height="29" fill="#c0c0c0" />
<rect x="1062" y="608" width="1" height="27" fill="#c0c0c0" />
<rect x="1070" y="609" width="1" height="26" fill="#c0c0c0" />
<rect x="1078" y="605" width="1" height="30" fill="#c0c0c0" />
<rect x="1086" y="603" width="1" height="32" fill="#c0c0c0" />
<rect x="1094" y="603" width="1" height="32" fill="#c0c0c0" />
<rect x="1102" y="613" width="1" height="22" fill="#c0c0c0" />
<rect x="1110" y="620" width="1" height="15" fill="#c0c0c0" />
<rect x="1118" y="626" width="1" height="9" fill="#c0c0c0" />
<rect x="1126" y="627" width="1" height="8" fill="#c0c0c0" />
<rect x="1134" y="625" width="1" height="10" fill="#c0c0c0" />
<rect x="1142" y="626" width="1" height="9" fill="#c0c0c0" />
<rect x="1150" y="623" width="1" height="12" fill="#c0c0c0" />
<rect x="1158" y="622" width="1" height="13" fill="#c0c0c0" />
<rect x="1166" y="617" width="1" height="18" fill="#c0c0c0" />
<rect x="1174" y="613" width="1" height="22" fill="#c0c0c0" />
<rect x="1182" y="610" width="1" height="25" fill="#c0c0c0" />
<rect x="1190" y="612" width="1" height="23" fill="#c0c0c0" />
<rect x="1198" y="617" width="1" height="18" fill="#c0c0c0" />
<rect x="1206" y="617" width="1" height="18" fill="#c0c0c0" />
<rect x="1214" y="621" width="1" height="14" fill="#c0c0c0" />
<rect x="1222" y="625" width="1" height="10" fill="#c0c0c0" />
<rect x="1230" y="632" width="1" height="3" fill="#c0c0c0" />
<rect x="1238" y="634" width="1" height="6" fill="#c0c0c0" />
<rect x="1246" y="634" width="1" height="17" fill="#c0c0c0" />
<rect x="1254" y="634" width="1" height="35" fill="#c0c0c0" />
<rect x="1262" y="634" width="1" height="43" fill="#c0c0c0" />
<rect x="1270" y="634" width="1" height="49" fill="#c0c0c0" />
<rect x="1278" y="634" width="1" height="50" fill="#c0c0c0" />
<rect x="1286" y="634" width="1" height="47" fill="#c0c0c0" />
<rect x="1294" y="634" width="1" height="45" fill="#c0c0c0" />
<rect x="1302" y="634" width="1" height="44" fill="#c0c0c0" />
<rect x="1310" y="634" width="1" height="41" fill="#c0c0c0" />
<rect x="1318" y="634" width="1" height="36" fill="#c0c0c0" />
<rect x="1326" y="634" width="1" height="32" fill="#c0c0c0" />
<rect x="1334" y="634" width="1" height="28" fill="#c0c0c0" />
<rect x="1342" y="634" width="1" height="22" fill="#c0c0c0" />
<rect x="1350" y="634" width="1" height="20" fill="#c0c0c0" />
<rect x="1358" y="634" width="1" height="18" fill="#c0c0c0" />
<rect x="1366" y="634" width="1" height="15" fill="#c0c0c0" />
<rect x="1374" y="634" width="1" height="12" fill="#c0c0c0" />
<rect x="1382" y="634" width="1" height="8" fill="#c0c0c0" />
<rect x="1390" y="634" width="1" height="7" fill="#c0c0c0" />
<rect x="1398" y="634" width="1" height="6" fill="#c0c0c0" />
<rect x="1406" y="634" width="1" height="7" fill="#c0c0c0" />
<rect x="1414" y="634" width="1" height="23" fill="#c0c0c0" />
<rect x="1422" y="634" width="1" height="35" fill="#c0c0c0" />
<rect x="1430" y="634" width="1" height="43" fill="#c0c0c0" />
<polyline points="0.5,596.9 30.1,597.7 42.9,600.9 53.8,605.5 65.5,607.5 85.3,608.7 99.1,607.2 114.9,604.2 134.5,601.8 146.5,602.2 160.3,604.5 183.9,604.8 193.8,602.8 209.5,601.8 219.5,598.9 241.1,598.9 254.9,604.2 270.7,611.1 286.5,622.9 304.2,635.2 316.1,641.1 329.1,646.0 341.3,648.0 354.2,646.5 369.9,642.7 387.7,636.8 407.5,634.4 415.3,631.5 431.1,629.3 439.0,626.5 454.8,622.5 462.5,618.5 474.5,618.0 494.2,621.0 508.0,628.9 519.8,639.7 535.5,656.5 549.5,666.3 559.3,671.3 575.1,673.5 590.9,676.2 606.5,683.1 614.5,686.5 638.2,690.0 646.1,693.0 659.1,692.0 663.5,691.0 688.1,690.0 701.9,694.9 713.8,701.5 725.5,708.7 739.4,715.3 753.2,717.5 765.0,722.5 782.8,725.1 798.5,728.1 816.3,729.9 830.1,724.5 845.9,720.0 863.5,718.0 879.5,721.5 891.3,729.5 909.0,739.9 925.8,743.9 940.5,738.3 956.4,725.5 972.1,709.7 989.1,692.5 992.5,689.5 1010.2,671.3 1026.0,652.5 1041.8,635.8 1055.5,623.9 1069.5,614.7 1085.2,608.7 1097.0,607.2 1114.8,608.7 1126.5,612.7 1146.3,617.0 1164.1,621.0 1181.8,621.0 1197.5,617.5 1229.2,617.5 1243.0,622.0 1254.8,631.8 1266.5,642.3 1280.5,655.5 1298.2,669.3 1310.0,675.2 1319.2,678.2 1330.1,677.2 1343.9,672.7 1359.5,665.9 1373.5,660.5 1385.3,654.5 1399.1,649.2 1409.0,648.0 1418.8,648.2 1423.8,650.5 1429.5,651.2" fill="none" stroke="#ff0000" stroke-width="1" stroke-dasharray="3,3"/>
<rect x="1627" y="586" width="2" height="1" fill="#000" />
<rect x="1627" y="634" width="2" height="1" fill="#000" />
<rect x="1627" y="765" width="2" height="1" fill="#000" />
</g>
<text transform="translate(1630,595.3) scale(0.912,1)" font-size="10.2" fill="#000" stroke="#000" stroke-width="0.22" text-anchor="start" font-weight="normal" >68.21</text>
<text transform="translate(1630,638) scale(0.912,1)" font-size="10.2" fill="#000" stroke="#000" stroke-width="0.22" text-anchor="start" font-weight="normal" >0.00</text>
<text transform="translate(1630,764) scale(0.912,1)" font-size="10.2" fill="#000" stroke="#000" stroke-width="0.22" text-anchor="start" font-weight="normal" >-185.05</text>
<text transform="translate(3,597) scale(0.912,1)" font-size="10.2" fill="#000" stroke="#000" stroke-width="0.22" text-anchor="start" font-weight="normal" >MACD(12,26,9) -59.97 -23.96</text>
<g shape-rendering="crispEdges">
<line x1="0" y1="802.5" x2="1626" y2="802.5" stroke="#c0c0c0" stroke-width="1" stroke-dasharray="3,3"/>
<line x1="0" y1="849.5" x2="1626" y2="849.5" stroke="#c0c0c0" stroke-width="1" stroke-dasharray="3,3"/>
<line x1="0" y1="905.5" x2="1626" y2="905.5" stroke="#c0c0c0" stroke-width="1" stroke-dasharray="3,3"/>
</g>
<polyline points="-1.5,834.5 6.5,831.9 14.5,844.5 22.5,840.7 30.5,838.7 38.5,857.0 46.5,858.8 54.5,843.2 62.5,830.7 70.5,829.9 78.5,828.9 86.5,825.5 94.5,837.5 102.5,839.5 110.5,842.0 118.5,837.7 126.5,842.7 134.5,842.7 142.5,842.7 150.5,844.0 158.5,833.7 166.5,823.9 174.5,823.5 182.5,821.9 190.5,834.9 198.5,830.7 206.5,826.9 214.5,834.5 222.5,842.0 230.5,848.7 238.5,849.0 246.5,857.8 254.5,865.1 262.5,862.8 270.5,864.5 278.5,869.8 286.5,869.8 294.5,871.3 302.5,875.9 310.5,854.5 318.5,844.7 326.5,845.7 334.5,849.0 342.5,845.0 350.5,841.0 358.5,851.5 366.5,846.2 374.5,844.5 382.5,842.7 390.5,844.5 398.5,845.7 406.5,833.9 414.5,852.5 422.5,840.2 430.5,831.9 438.5,828.9 446.5,827.7 454.5,830.7 462.5,836.2 470.5,869.5 478.5,872.8 486.5,865.3 494.5,863.8 502.5,867.1 510.5,883.5 518.5,870.8 526.5,871.8 534.5,867.8 542.5,864.8 550.5,861.8 558.5,850.0 566.5,845.7 574.5,842.7 582.5,879.1 590.5,883.5 598.5,875.9 606.5,875.9 614.5,856.3 622.5,846.2 630.5,854.0 638.5,855.8 646.5,849.0 654.5,857.0 662.5,868.8 670.5,870.8 678.5,872.1 686.5,865.3 694.5,863.8 702.5,871.8 710.5,862.8 718.5,864.8 726.5,862.8 734.5,867.8 742.5,871.8 750.5,868.8 758.5,880.4 766.5,863.8 774.5,860.8 782.5,867.1 790.5,863.8 798.5,867.1 806.5,875.9 814.5,850.0 822.5,849.0 830.5,859.8 838.5,859.8 846.5,863.8 854.5,865.1 862.5,874.9 870.5,876.1 878.5,879.1 886.5,868.8 894.5,868.8 902.5,864.5 910.5,852.8 918.5,858.8 926.5,855.0 934.5,853.8 942.5,857.5 950.5,861.0 958.5,850.0 966.5,850.0 974.5,850.0 982.5,851.8 990.5,851.8 998.5,842.0 1006.5,832.7 1014.5,837.7 1022.5,835.7 1030.5,844.0 1038.5,842.7 1046.5,851.8 1054.5,838.7 1062.5,848.0 1070.5,846.7 1078.5,842.0 1086.5,841.7 1094.5,843.7 1102.5,856.0 1110.5,854.8 1118.5,856.0 1126.5,850.0 1134.5,845.7 1142.5,849.0 1150.5,844.7 1158.5,845.7 1166.5,840.0 1174.5,838.7 1182.5,838.7 1190.5,846.7 1198.5,850.8 1206.5,848.0 1214.5,851.0 1222.5,854.8 1230.5,859.0 1238.5,864.8 1246.5,872.1 1254.5,883.5 1262.5,869.8 1270.5,869.8 1278.5,865.1 1286.5,858.8 1294.5,858.8 1302.5,862.1 1310.5,857.0 1318.5,853.8 1326.5,852.8 1334.5,854.0 1342.5,846.7 1350.5,853.0 1358.5,851.8 1366.5,850.8 1374.5,848.7 1382.5,843.7 1390.5,850.8 1398.5,852.0 1406.5,856.3 1414.5,881.9 1422.5,883.1 1430.5,879.9" fill="none" stroke="#1e90ff" stroke-width="1" shape-rendering="crispEdges"/>
<g shape-rendering="crispEdges">
<rect x="1627" y="771" width="2" height="1" fill="#000" />
<rect x="1627" y="802" width="2" height="1" fill="#000" />
<rect x="1627" y="849" width="2" height="1" fill="#000" />
<rect x="1627" y="905" width="2" height="1" fill="#000" />
<rect x="1627" y="928" width="1" height="1" fill="#000" />
</g>
<text transform="translate(1630,780.5) scale(0.912,1)" font-size="10.2" fill="#000" stroke="#000" stroke-width="0.22" text-anchor="start" font-weight="normal" >100</text>
<text transform="translate(1630,805.5) scale(0.912,1)" font-size="10.2" fill="#000" stroke="#000" stroke-width="0.22" text-anchor="start" font-weight="normal" >80</text>
<text transform="translate(1630,852.5) scale(0.912,1)" font-size="10.2" fill="#000" stroke="#000" stroke-width="0.22" text-anchor="start" font-weight="normal" >50</text>
<text transform="translate(1630,908.5) scale(0.912,1)" font-size="10.2" fill="#000" stroke="#000" stroke-width="0.22" text-anchor="start" font-weight="normal" >15</text>
<text transform="translate(1630,925.5) scale(0.912,1)" font-size="10.2" fill="#000" stroke="#000" stroke-width="0.22" text-anchor="start" font-weight="normal" >0</text>
<text transform="translate(2,781.5) scale(0.912,1)" font-size="10.2" fill="#000" stroke="#000" stroke-width="0.22" text-anchor="start" font-weight="normal" >RSI(14) 31.6239</text>
<g shape-rendering="crispEdges">
<rect x="62" y="930" width="1" height="3" fill="#000" />
<rect x="126" y="930" width="1" height="3" fill="#000" />
<rect x="190" y="930" width="1" height="3" fill="#000" />
<rect x="254" y="930" width="1" height="3" fill="#000" />
<rect x="318" y="930" width="1" height="3" fill="#000" />
<rect x="382" y="930" width="1" height="3" fill="#000" />
<rect x="446" y="930" width="1" height="3" fill="#000" />
<rect x="510" y="930" width="1" height="3" fill="#000" />
<rect x="574" y="930" width="1" height="3" fill="#000" />
<rect x="638" y="930" width="1" height="3" fill="#000" />
<rect x="702" y="930" width="1" height="3" fill="#000" />
<rect x="766" y="930" width="1" height="3" fill="#000" />
<rect x="830" y="930" width="1" height="3" fill="#000" />
<rect x="894" y="930" width="1" height="3" fill="#000" />
<rect x="958" y="930" width="1" height="3" fill="#000" />
<rect x="1022" y="930" width="1" height="3" fill="#000" />
<rect x="1086" y="930" width="1" height="3" fill="#000" />
<rect x="1150" y="930" width="1" height="3" fill="#000" />
<rect x="1214" y="930" width="1" height="3" fill="#000" />
<rect x="1278" y="930" width="1" height="3" fill="#000" />
<rect x="1342" y="930" width="1" height="3" fill="#000" />
<rect x="1406" y="930" width="1" height="3" fill="#000" />
</g>
<text transform="translate(-2.7,941.8) scale(0.912,1)" font-size="10.2" fill="#000" stroke="#000" stroke-width="0.22" text-anchor="start" font-weight="normal" style="word-spacing:0.6px">17 Apr 2019</text>
<text transform="translate(61.3,941.8) scale(0.912,1)" font-size="10.2" fill="#000" stroke="#000" stroke-width="0.22" text-anchor="start" font-weight="normal" style="word-spacing:0.6px">18 Apr 12:00</text>
<text transform="translate(125.3,941.8) scale(0.912,1)" font-size="10.2" fill="#000" stroke="#000" stroke-width="0.22" text-anchor="start" font-weight="normal" style="word-spacing:0.6px">22 Apr 16:00</text>
<text transform="translate(189.3,941.8) scale(0.912,1)" font-size="10.2" fill="#000" stroke="#000" stroke-width="0.22" text-anchor="start" font-weight="normal" style="word-spacing:0.6px">24 Apr 00:00</text>
<text transform="translate(253.3,941.8) scale(0.912,1)" font-size="10.2" fill="#000" stroke="#000" stroke-width="0.22" text-anchor="start" font-weight="normal" style="word-spacing:0.6px">25 Apr 08:00</text>
<text transform="translate(317.3,941.8) scale(0.912,1)" font-size="10.2" fill="#000" stroke="#000" stroke-width="0.22" text-anchor="start" font-weight="normal" style="word-spacing:0.6px">26 Apr 16:00</text>
<text transform="translate(381.3,941.8) scale(0.912,1)" font-size="10.2" fill="#000" stroke="#000" stroke-width="0.22" text-anchor="start" font-weight="normal" style="word-spacing:0.6px">29 Apr 20:00</text>
<text transform="translate(445.3,941.8) scale(0.912,1)" font-size="10.2" fill="#000" stroke="#000" stroke-width="0.22" text-anchor="start" font-weight="normal" style="word-spacing:0.6px">1 May 04:00</text>
<text transform="translate(509.3,941.8) scale(0.912,1)" font-size="10.2" fill="#000" stroke="#000" stroke-width="0.22" text-anchor="start" font-weight="normal" style="word-spacing:0.6px">2 May 12:00</text>
<text transform="translate(573.3,941.8) scale(0.912,1)" font-size="10.2" fill="#000" stroke="#000" stroke-width="0.22" text-anchor="start" font-weight="normal" style="word-spacing:0.6px">3 May 20:00</text>
<text transform="translate(637.3,941.8) scale(0.912,1)" font-size="10.2" fill="#000" stroke="#000" stroke-width="0.22" text-anchor="start" font-weight="normal" style="word-spacing:0.6px">7 May 00:00</text>
<text transform="translate(701.3,941.8) scale(0.912,1)" font-size="10.2" fill="#000" stroke="#000" stroke-width="0.22" text-anchor="start" font-weight="normal" style="word-spacing:0.6px">8 May 08:00</text>
<text transform="translate(765.3,941.8) scale(0.912,1)" font-size="10.2" fill="#000" stroke="#000" stroke-width="0.22" text-anchor="start" font-weight="normal" style="word-spacing:0.6px">9 May 16:00</text>
<text transform="translate(829.3,941.8) scale(0.912,1)" font-size="10.2" fill="#000" stroke="#000" stroke-width="0.22" text-anchor="start" font-weight="normal" style="word-spacing:0.6px">12 May 23:00</text>
<text transform="translate(893.3,941.8) scale(0.912,1)" font-size="10.2" fill="#000" stroke="#000" stroke-width="0.22" text-anchor="start" font-weight="normal" style="word-spacing:0.6px">14 May 04:00</text>
<text transform="translate(957.3,941.8) scale(0.912,1)" font-size="10.2" fill="#000" stroke="#000" stroke-width="0.22" text-anchor="start" font-weight="normal" style="word-spacing:0.6px">15 May 12:00</text>
<text transform="translate(1021.3,941.8) scale(0.912,1)" font-size="10.2" fill="#000" stroke="#000" stroke-width="0.22" text-anchor="start" font-weight="normal" style="word-spacing:0.6px">16 May 20:00</text>
<text transform="translate(1085.3,941.8) scale(0.912,1)" font-size="10.2" fill="#000" stroke="#000" stroke-width="0.22" text-anchor="start" font-weight="normal" style="word-spacing:0.6px">20 May 00:00</text>
<text transform="translate(1149.3,941.8) scale(0.912,1)" font-size="10.2" fill="#000" stroke="#000" stroke-width="0.22" text-anchor="start" font-weight="normal" style="word-spacing:0.6px">21 May 08:00</text>
<text transform="translate(1213.3,941.8) scale(0.912,1)" font-size="10.2" fill="#000" stroke="#000" stroke-width="0.22" text-anchor="start" font-weight="normal" style="word-spacing:0.6px">22 May 16:00</text>
<text transform="translate(1277.3,941.8) scale(0.912,1)" font-size="10.2" fill="#000" stroke="#000" stroke-width="0.22" text-anchor="start" font-weight="normal" style="word-spacing:0.6px">24 May 00:00</text>
<text transform="translate(1341.3,941.8) scale(0.912,1)" font-size="10.2" fill="#000" stroke="#000" stroke-width="0.22" text-anchor="start" font-weight="normal" style="word-spacing:0.6px">27 May 04:00</text>
<text transform="translate(1405.3,941.8) scale(0.912,1)" font-size="10.2" fill="#000" stroke="#000" stroke-width="0.22" text-anchor="start" font-weight="normal" style="word-spacing:0.6px">28 May 12:00</text>
<polygon points="0.9,40.4 8.3,40.4 4.6,35.9" fill="#000"/>
<text transform="translate(13.3,41.2) scale(0.912,1)" font-size="10.2" fill="#000" stroke="#000" stroke-width="0.22" text-anchor="start" font-weight="normal" >DJ30-,H4  25346.0 25373.0 25343.0 25363.0</text>
<g>
<rect x="0" y="44" width="222" height="69.5" fill="#fff" />
<rect x="1" y="49" width="52" height="64" fill="url(#gAll)" />
<rect x="168" y="49" width="52" height="64" fill="url(#gAll)" />
<rect x="53" y="73" width="57" height="40" fill="url(#gAll)" />
<rect x="112" y="73" width="56" height="40" fill="url(#gAll)" />
<rect x="1" y="49" width="52" height="0.8" fill="#2a2ad0" />
<rect x="1" y="49" width="0.8" height="64" fill="#2a2ad0" />
<rect x="168" y="49" width="52" height="0.8" fill="#2a2ad0" />
<rect x="219.2" y="49" width="0.8" height="64" fill="#1a1ac0" />
<rect x="53" y="73" width="57" height="0.8" fill="#2424c4" />
<rect x="112" y="73" width="56" height="0.8" fill="#2424c4" />
<rect x="5" y="72.6" width="44" height="1" fill="#a4a4fc" />
<rect x="172" y="72.6" width="44" height="1" fill="#a4a4fc" />
<rect x="110" y="73" width="2" height="40" fill="#ececfc" />
<rect x="55.5" y="49.5" width="110" height="21" fill="#fff" stroke="#a8a8a8" stroke-width="1"/>
<rect x="56" y="50" width="20.3" height="20" fill="url(#gBtn)" />
<rect x="145" y="50" width="20" height="20" fill="url(#gBtn)" />
<rect x="76.3" y="50" width="0.8" height="20" fill="#b0b0b0" />
<rect x="144.3" y="50" width="0.8" height="20" fill="#b0b0b0" />
<polygon points="62.3,59 69,59 65.65,62.6" fill="#000"/>
<polygon points="151.3,62.2 158,62.2 154.65,58.6" fill="#000"/>
<text x="141" y="65" font-size="12.5" fill="#000" text-anchor="end" font-weight="normal" textLength="23.5" lengthAdjust="spacingAndGlyphs">1.00</text>
<text x="26.2" y="64.8" font-size="11.8" fill="#fff" text-anchor="middle" font-weight="normal" textLength="25.3" lengthAdjust="spacingAndGlyphs">SELL</text>
<text x="193" y="64.8" font-size="11.8" fill="#fff" text-anchor="middle" font-weight="normal" textLength="23" lengthAdjust="spacingAndGlyphs">BUY</text>
<text x="17.5" y="103.9" font-size="12" fill="#fff" text-anchor="start" font-weight="bold" textLength="33.5" lengthAdjust="spacingAndGlyphs">25361</text>
<text x="127.3" y="103.9" font-size="12" fill="#fff" text-anchor="start" font-weight="bold" textLength="34" lengthAdjust="spacingAndGlyphs">25369</text>
<text x="56.2" y="104" font-size="32.7" fill="#fff" text-anchor="start" font-weight="normal" textLength="22" lengthAdjust="spacingAndGlyphs">.5</text>
<text x="166.5" y="104" font-size="32.7" fill="#fff" text-anchor="start" font-weight="normal" textLength="22.5" lengthAdjust="spacingAndGlyphs">.5</text>
</g>
<g><rect x="-3" y="5.5" width="11.5" height="12" fill="#fff" stroke="#8a8a8a"/><rect x="-1" y="8.5" width="6" height="1" fill="#9a9a9a"/><rect x="-1" y="11.5" width="4" height="1" fill="#9a9a9a"/><path d="M5.1,11.7 h3.8 v3.6 h3.8 v3.8 h-3.8 v3.6 h-3.8 v-3.6 h-3.8 v-3.8 h3.8 z" fill="#22c02a" stroke="#0f8a18" stroke-width="0.8"/></g>
<text x="16" y="15.5" font-size="12" fill="#000" text-anchor="start" font-weight="500" >新订单</text>
<g><polygon points="69.5,6.3 77.8,11.3 80,14.6 71.8,20.7 64,14.9" fill="url(#gBook)" stroke="#94600a" stroke-width="1.1"/><path d="M64.8,15.9 L71.8,20 L79.3,15.4" fill="none" stroke="#f0e0a8" stroke-width="0.9"/><path d="M64.3,14.4 L71.6,18.6 L79.6,14" fill="none" stroke="#b88410" stroke-width="0.8"/></g>
<g><polygon points="94.2,6.4 97,5 105,6 105,14 94.2,14" fill="#1890f0" stroke="#1064c4" stroke-width="0.7"/><polygon points="97.6,7.4 104.5,6.8 104.5,13.8 97.6,13.8" fill="#5cbcf8"/><rect x="99" y="8.6" width="4.6" height="1.5" fill="#fff"/><path d="M94.6,20.6 a3.1,3.1 0 0 1 0.4,-6 a3.8,3.8 0 0 1 6.8,-1 a3.2,3.2 0 0 1 4.7,2.4 a2.4,2.4 0 0 1 -0.5,4.6 z" fill="url(#gCloud)" stroke="#4a68a8" stroke-width="0.9"/></g>
<g fill="none"><path d="M128,13 L130.6,5.9 A7.6,7.6 0 0 1 128,20.6 Z" fill="#6cba6c" stroke="none" opacity="0.8"/><circle cx="128" cy="13" r="7.4" stroke="#7c9ce0" stroke-width="1.1" opacity="0.85"/><circle cx="128" cy="13" r="4.6" stroke="#6c8cd8" stroke-width="1.1" opacity="0.85"/><circle cx="128" cy="12.6" r="1.9" fill="#2454c8" stroke="none"/><rect x="127.7" y="13.2" width="1.4" height="7.6" fill="#22a022" stroke="none"/></g>
<g><path d="M147.8,11.5 L162.8,11.5 L157,20.6 L153.2,20.2 Z" fill="#f4d040" stroke="#c09820" stroke-width="0.8"/><ellipse cx="155" cy="10" rx="7.8" ry="2.8" fill="#58a8dc" stroke="#3a88b8" stroke-width="0.7"/><ellipse cx="154.6" cy="7.6" rx="4" ry="2.9" fill="#6cbce8" stroke="#3a88b8" stroke-width="0.6"/><circle cx="159.7" cy="16.5" r="4.2" fill="#e02020"/><rect x="158" y="14.8" width="3.4" height="3.4" fill="#fff"/></g>
<text x="168.7" y="15.5" font-size="12" fill="#000" text-anchor="start" font-weight="500" >自动交易</text>
<rect x="223" y="0" width="1" height="25" fill="#a0a0a0" shape-rendering="crispEdges"/>
<rect x="224" y="0" width="1" height="25" fill="#ffffff" shape-rendering="crispEdges"/>
<rect x="227" y="3" width="3" height="1" fill="#9a9a9a" shape-rendering="crispEdges"/>
<rect x="227" y="5" width="3" height="1" fill="#9a9a9a" shape-rendering="crispEdges"/>
<rect x="227" y="7" width="3" height="1" fill="#9a9a9a" shape-rendering="crispEdges"/>
<rect x="227" y="9" width="3" height="1" fill="#9a9a9a" shape-rendering="crispEdges"/>
<rect x="227" y="11" width="3" height="1" fill="#9a9a9a" shape-rendering="crispEdges"/>
<rect x="227" y="13" width="3" height="1" fill="#9a9a9a" shape-rendering="crispEdges"/>
<rect x="227" y="15" width="3" height="1" fill="#9a9a9a" shape-rendering="crispEdges"/>
<rect x="227" y="17" width="3" height="1" fill="#9a9a9a" shape-rendering="crispEdges"/>
<rect x="227" y="19" width="3" height="1" fill="#9a9a9a" shape-rendering="crispEdges"/>
<rect x="227" y="21" width="3" height="1" fill="#9a9a9a" shape-rendering="crispEdges"/>
<g fill="#505050"><rect x="241" y="8" width="1.2" height="13"/><rect x="239" y="17.8" width="12.5" height="1.2"/><polygon points="239.6,9.8 241.6,6.6 243.6,9.8"/><polygon points="250,16.4 253,18.4 250,20.4"/></g>
<g fill="#0a8a1a"><rect x="247" y="8.4" width="1.3" height="8.4"/><rect x="247" y="8.8" width="3" height="1.2"/><rect x="245.2" y="15.2" width="3" height="1.2"/></g>
<g shape-rendering="crispEdges"><rect x="261" y="1" width="25" height="22" fill="#f8f8f8"/><rect x="261" y="1" width="25" height="1" fill="#a0a0a0"/><rect x="261" y="1" width="1" height="22" fill="#a0a0a0"/><rect x="285" y="2" width="1" height="21" fill="#fff"/><rect x="262" y="22" width="24" height="1" fill="#fff"/></g>
<g fill="#505050"><rect x="269" y="8" width="1.2" height="13"/><rect x="267" y="17.8" width="12.5" height="1.2"/><polygon points="267.6,9.8 269.6,6.6 271.6,9.8"/><polygon points="278,16.4 281,18.4 278,20.4"/></g>
<rect x="275" y="5" width="1.2" height="12" fill="#0a7a14"/><rect x="273.5" y="7.5" width="4.4" height="7" fill="#30d040" stroke="#0a8a14" stroke-width="0.9"/><rect x="275" y="8.5" width="1.4" height="5" fill="#90f090"/>
<g fill="#505050"><rect x="297" y="8" width="1.2" height="13"/><rect x="295" y="17.8" width="12.5" height="1.2"/><polygon points="295.6,9.8 297.6,6.6 299.6,9.8"/><polygon points="306,16.4 309,18.4 306,20.4"/></g>
<path d="M296,15.8 Q300,9.5 302.2,10.5 T307.8,14.3" fill="none" stroke="#2a9a3a" stroke-width="1.4"/>
<rect x="318" y="2" width="1" height="21" fill="#a0a0a0" shape-rendering="crispEdges"/>
<g><line x1="336.7" y1="15" x2="341.6" y2="19.6" stroke="#a88418" stroke-width="3.4" stroke-linecap="round"/><line x1="337" y1="15.3" x2="341.4" y2="19.4" stroke="#f0d040" stroke-width="1.9" stroke-linecap="round"/><circle cx="333" cy="11" r="5.4" fill="#d4ecfc" stroke="#3f86cc" stroke-width="1.4"/><rect x="330" y="10.3" width="6" height="1.6" fill="#3a84b8"/><rect x="332.2" y="8.1" width="1.6" height="6" fill="#3a84b8"/></g>
<g><line x1="364.8" y1="15" x2="369.70000000000005" y2="19.6" stroke="#a88418" stroke-width="3.4" stroke-linecap="round"/><line x1="365.1" y1="15.3" x2="369.5" y2="19.4" stroke="#f0d040" stroke-width="1.9" stroke-linecap="round"/><circle cx="361.1" cy="11" r="5.4" fill="#d4ecfc" stroke="#3f86cc" stroke-width="1.4"/><rect x="358.1" y="10.3" width="6" height="1.6" fill="#3a84b8"/></g>
<g shape-rendering="crispEdges"><rect x="383" y="5" width="8" height="8" fill="#3e9a14"/><rect x="391" y="5" width="8" height="8" fill="#1c50cc"/><rect x="383" y="13" width="8" height="8" fill="#1c50cc"/><rect x="391" y="13" width="8" height="8" fill="#3e9a14"/><rect x="384" y="8" width="6" height="4" fill="#f4faf0"/><rect x="392" y="8" width="6" height="4" fill="#f0f4ff"/><rect x="384" y="16" width="6" height="4" fill="#f0f4ff"/><rect x="392" y="16" width="6" height="4" fill="#f4faf0"/><rect x="385" y="9" width="4" height="1" fill="#a8d890"/><rect x="393" y="9" width="4" height="1" fill="#9ab4f0"/><rect x="385" y="17" width="4" height="1" fill="#9ab4f0"/><rect x="393" y="17" width="4" height="1" fill="#a8d890"/></g>
<rect x="408" y="2" width="1" height="21" fill="#a0a0a0" shape-rendering="crispEdges"/>
<g shape-rendering="crispEdges"><rect x="413" y="1" width="25" height="22" fill="#f8f8f8"/><rect x="413" y="1" width="25" height="1" fill="#a0a0a0"/><rect x="413" y="1" width="1" height="22" fill="#a0a0a0"/><rect x="437" y="2" width="1" height="21" fill="#fff"/><rect x="414" y="22" width="24" height="1" fill="#fff"/></g>
<g fill="#505050"><rect x="421" y="8" width="1.2" height="13"/><rect x="419" y="17.8" width="12.5" height="1.2"/><polygon points="419.6,9.8 421.6,6.6 423.6,9.8"/><polygon points="430,16.4 433,18.4 430,20.4"/></g>
<polygon points="426.2,9.4 426.2,15.6 429.8,12.5" fill="#90e890" stroke="#18a018" stroke-width="1"/>
<g shape-rendering="crispEdges"><rect x="441" y="1" width="25" height="22" fill="#f8f8f8"/><rect x="441" y="1" width="25" height="1" fill="#a0a0a0"/><rect x="441" y="1" width="1" height="22" fill="#a0a0a0"/><rect x="465" y="2" width="1" height="21" fill="#fff"/><rect x="442" y="22" width="24" height="1" fill="#fff"/></g>
<g fill="#505050"><rect x="449" y="8" width="1.2" height="13"/><rect x="447" y="17.8" width="12.5" height="1.2"/><polygon points="447.6,9.8 449.6,6.6 451.6,9.8"/><polygon points="458,16.4 461,18.4 458,20.4"/></g>
<rect x="454.8" y="7.2" width="1.3" height="9.6" fill="#1a6a9a"/><path d="M461,12.4 h-4 M458.6,10.2 l-2.2,2.2 l2.2,2.2" stroke="#d04000" fill="none" stroke-width="1.2"/>
<rect x="470" y="2" width="1" height="21" fill="#a0a0a0" shape-rendering="crispEdges"/>
<g><path d="M481,5.5 h7.5 l3.5,3.5 v9.5 h-11 z" fill="#fcfcfc" stroke="#808080" stroke-width="0.9"/><path d="M483.8,15 q-1.2,-4 1.8,-6.5" fill="none" stroke="#504838" stroke-width="0.9"/><path d="M488.3,11.8 h3.7 v3.7 h3.7 v3.7 h-3.7 v3.6 h-3.7 v-3.6 h-3.7 v-3.7 h3.7 z" fill="#22c02a" stroke="#0f8a18" stroke-width="0.7"/></g>
<polygon points="501.6,12 507.20000000000005,12 504.40000000000003,15.2" fill="#000"/>
<g><circle cx="526" cy="12.9" r="7" fill="#f6f8fc" stroke="#1c6cd0" stroke-width="2.2"/><path d="M525.2,8.5 V13 H528.6" stroke="#303030" fill="none" stroke-width="1.3"/></g>
<polygon points="540.6,12 546.2,12 543.4,15.2" fill="#000"/>
<g shape-rendering="crispEdges"><rect x="557.5" y="6.5" width="15" height="13" fill="#fff" stroke="#3a74c0"/><rect x="558" y="7" width="14" height="2" fill="#5a9ae0"/><rect x="558" y="14" width="14" height="1" fill="#7aa4d8"/></g><path d="M559.5,12.6 l2.5,-0.2 l2,-1.6 l2.5,1.2 l3,-1.4" stroke="#a82808" fill="none" stroke-width="1.2"/><path d="M560,17.4 l2.5,-0.6 l2,0.6 l2.5,-2 l3,2" stroke="#10902a" fill="none" stroke-width="1.2"/>
<polygon points="579.6,12 585.2,12 582.4,15.2" fill="#000"/>
<rect x="591" y="0" width="1" height="25" fill="#a0a0a0" shape-rendering="crispEdges"/>
<rect x="592" y="0" width="1" height="25" fill="#ffffff" shape-rendering="crispEdges"/>
<rect x="595" y="3" width="3" height="1" fill="#9a9a9a" shape-rendering="crispEdges"/>
<rect x="595" y="5" width="3" height="1" fill="#9a9a9a" shape-rendering="crispEdges"/>
<rect x="595" y="7" width="3" height="1" fill="#9a9a9a" shape-rendering="crispEdges"/>
<rect x="595" y="9" width="3" height="1" fill="#9a9a9a" shape-rendering="crispEdges"/>
<rect x="595" y="11" width="3" height="1" fill="#9a9a9a" shape-rendering="crispEdges"/>
<rect x="595" y="13" width="3" height="1" fill="#9a9a9a" shape-rendering="crispEdges"/>
<rect x="595" y="15" width="3" height="1" fill="#9a9a9a" shape-rendering="crispEdges"/>
<rect x="595" y="17" width="3" height="1" fill="#9a9a9a" shape-rendering="crispEdges"/>
<rect x="595" y="19" width="3" height="1" fill="#9a9a9a" shape-rendering="crispEdges"/>
<rect x="595" y="21" width="3" height="1" fill="#9a9a9a" shape-rendering="crispEdges"/>
<g shape-rendering="crispEdges"><rect x="601" y="1" width="25" height="22" fill="#f8f8f8"/><rect x="601" y="1" width="25" height="1" fill="#a0a0a0"/><rect x="601" y="1" width="1" height="22" fill="#a0a0a0"/><rect x="625" y="2" width="1" height="21" fill="#fff"/><rect x="602" y="22" width="24" height="1" fill="#fff"/></g>
<polygon points="609,5.8 609,17.2 611.7,14.8 614.2,20.2 616,19.3 613.6,14.1 617.2,13.5" fill="#505050"/>
<g fill="#505050"><rect x="634" y="12.8" width="6.3" height="1.3"/><rect x="642.7" y="12.8" width="6.3" height="1.3"/><rect x="640.9" y="6" width="1.3" height="6"/><rect x="640.9" y="15" width="1.3" height="6"/></g>
<rect x="658" y="2" width="1" height="21" fill="#a0a0a0" shape-rendering="crispEdges"/>
<g fill="#505050"><rect x="674.8" y="7" width="1.3" height="12.8"/><rect x="698" y="12.9" width="12.2" height="1.3"/></g>
<line x1="725.8" y1="19.7" x2="738" y2="8" stroke="#505050" stroke-width="1.2"/>
<g stroke="#505050" stroke-width="0.9" fill="none"><path d="M752.2,14.5 L759.8,6.9 M752.9,19 L766,10.8 M756.8,19.7 L765.7,12.2 M755.5,12 l-1.5,7 M759,9.5 l-1.5,8 M763,5.5 l-1,8"/></g>
<text x="762.8" y="21.8" font-size="6.5" fill="#303030" text-anchor="start" font-weight="bold" >E</text>
<g stroke="#505050" stroke-width="1" stroke-dasharray="1,1" shape-rendering="crispEdges"><line x1="781" y1="6.5" x2="794" y2="6.5"/><line x1="781" y1="9.5" x2="794" y2="9.5"/><line x1="781" y1="13.5" x2="794" y2="13.5"/><line x1="781" y1="17.5" x2="790" y2="17.5"/></g>
<text x="790.8" y="21.8" font-size="6.5" fill="#303030" text-anchor="start" font-weight="bold" >F</text>
<text x="815.6" y="17.8" font-size="12.5" fill="#505050" text-anchor="middle" font-weight="bold" >A</text>
<rect x="838.5" y="7.5" width="11" height="12" fill="none" stroke="#505050" stroke-dasharray="1,1" shape-rendering="crispEdges"/>
<text x="844" y="17.6" font-size="10.8" fill="#505050" text-anchor="middle" font-weight="bold" >T</text>
<g fill="#505050"><path d="M865,11.5 l3.5,-4.6 l3.5,4.6 z"/><path d="M872,15.3 l3.5,4.4 l3.5,-4.4 z"/><path d="M867.3,14.6 l1.8,1.8 l4.2,-5" fill="none" stroke="#505050" stroke-width="1.3"/></g>
<polygon points="885.6,12 891.2,12 888.4,15.2" fill="#000"/>
<rect x="897" y="0" width="1" height="25" fill="#a0a0a0" shape-rendering="crispEdges"/>
<rect x="898" y="0" width="1" height="25" fill="#ffffff" shape-rendering="crispEdges"/>
<rect x="901" y="3" width="3" height="1" fill="#9a9a9a" shape-rendering="crispEdges"/>
<rect x="901" y="5" width="3" height="1" fill="#9a9a9a" shape-rendering="crispEdges"/>
<rect x="901" y="7" width="3" height="1" fill="#9a9a9a" shape-rendering="crispEdges"/>
<rect x="901" y="9" width="3" height="1" fill="#9a9a9a" shape-rendering="crispEdges"/>
<rect x="901" y="11" width="3" height="1" fill="#9a9a9a" shape-rendering="crispEdges"/>
<rect x="901" y="13" width="3" height="1" fill="#9a9a9a" shape-rendering="crispEdges"/>
<rect x="901" y="15" width="3" height="1" fill="#9a9a9a" shape-rendering="crispEdges"/>
<rect x="901" y="17" width="3" height="1" fill="#9a9a9a" shape-rendering="crispEdges"/>
<rect x="901" y="19" width="3" height="1" fill="#9a9a9a" shape-rendering="crispEdges"/>
<rect x="901" y="21" width="3" height="1" fill="#9a9a9a" shape-rendering="crispEdges"/>
<g shape-rendering="crispEdges"><rect x="1047" y="1" width="26" height="22" fill="#f8f8f8"/><rect x="1047" y="1" width="26" height="1" fill="#a0a0a0"/><rect x="1047" y="1" width="1" height="22" fill="#a0a0a0"/><rect x="1072" y="2" width="1" height="21" fill="#fff"/><rect x="1048" y="22" width="25" height="1" fill="#fff"/></g>
<text x="919" y="16.9" font-size="9.6" fill="#404040" text-anchor="middle" font-weight="normal" >M1</text>
<text x="947" y="16.9" font-size="9.6" fill="#404040" text-anchor="middle" font-weight="normal" >M5</text>
<text x="975.3" y="16.9" font-size="9.6" fill="#404040" text-anchor="middle" font-weight="normal" >M15</text>
<text x="1003.5" y="16.9" font-size="9.6" fill="#404040" text-anchor="middle" font-weight="normal" >M30</text>
<text x="1031.3" y="16.9" font-size="9.6" fill="#404040" text-anchor="middle" font-weight="normal" >H1</text>
<text x="1059" y="16.9" font-size="9.6" fill="#404040" text-anchor="middle" font-weight="normal" >H4</text>
<text x="1087.6" y="16.9" font-size="9.6" fill="#404040" text-anchor="middle" font-weight="normal" >D1</text>
<text x="1116" y="16.9" font-size="9.6" fill="#404040" text-anchor="middle" font-weight="normal" >W1</text>
<text x="1143" y="16.9" font-size="9.6" fill="#404040" text-anchor="middle" font-weight="normal" >MN</text>
<rect x="1158" y="0" width="1" height="25" fill="#a0a0a0" shape-rendering="crispEdges"/>
<g><circle cx="1629" cy="10.3" r="3.6" fill="#f0f6ff" stroke="#2a5ad0" stroke-width="1.5"/><line x1="1626.5" y1="13.3" x2="1621.5" y2="17.8" stroke="#2a5ad0" stroke-width="2.2" stroke-linecap="round"/></g>
<g fill="#f4f4f4" stroke="#909090" stroke-width="0.9"><path d="M1656,5.8 h7 a4,4 0 0 1 0,8.6 h-1 l1,2.4 l-3.5,-2.4 h-3.5 a4,4 0 0 1 0,-8.6 z"/><path d="M1651,10.8 h4.6 a3.3,3.3 0 0 1 0,6.8 h-2.8 l-2.5,2 l0.5,-2 a3.3,3.3 0 0 1 0.2,-6.8 z"/></g>
</svg></body></html>
